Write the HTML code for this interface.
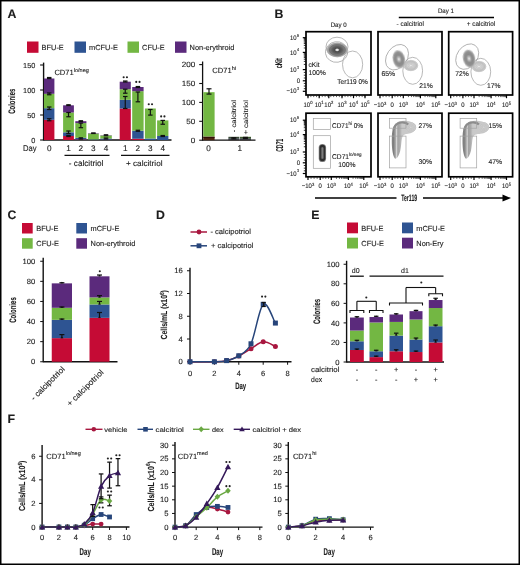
<!DOCTYPE html>
<html><head><meta charset="utf-8"><style>
html,body{margin:0;padding:0;background:#fff;}
.fig{position:relative;width:520px;height:565px;overflow:hidden;background:#fff;}
.fig svg{position:absolute;left:0;top:0;will-change:transform;}
text{font-family:"Liberation Sans",sans-serif;fill:#1c1c1c;stroke:#1c1c1c;stroke-width:0.12px;}
</style></head><body><div class="fig">
<svg width="520" height="565" viewBox="0 0 520 565" font-family='"Liberation Sans", sans-serif' text-rendering="geometricPrecision">
<defs><filter id="bl" x="-30%" y="-30%" width="160%" height="160%"><feGaussianBlur stdDeviation="0.55"/></filter><filter id="bl2" x="-30%" y="-30%" width="160%" height="160%"><feGaussianBlur stdDeviation="0.9"/></filter><radialGradient id="gk0" cx="0.5" cy="0.5" r="0.5"><stop offset="0" stop-color="#fff"/><stop offset="0.1" stop-color="#e0e0e0"/><stop offset="0.24" stop-color="#4c4c4c"/><stop offset="0.45" stop-color="#5c5c5c"/><stop offset="0.7" stop-color="#7c7c7c"/><stop offset="0.9" stop-color="#a8a8a8"/><stop offset="1" stop-color="#d4d4d4"/></radialGradient><radialGradient id="gk1" cx="0.5" cy="0.5" r="0.5"><stop offset="0" stop-color="#eee"/><stop offset="0.2" stop-color="#bbb"/><stop offset="0.45" stop-color="#8a8a8a"/><stop offset="0.75" stop-color="#8f8f8f"/><stop offset="1" stop-color="#c4c4c4"/></radialGradient><radialGradient id="gk2" cx="0.5" cy="0.5" r="0.5"><stop offset="0" stop-color="#e8e8e8"/><stop offset="0.5" stop-color="#d2d2d2"/><stop offset="0.8" stop-color="#c4c4c4"/><stop offset="1" stop-color="#e0e0e0"/></radialGradient><radialGradient id="gk3" cx="0.5" cy="0.5" r="0.5"><stop offset="0" stop-color="#888"/><stop offset="0.35" stop-color="#3a3a3a"/><stop offset="0.7" stop-color="#444"/><stop offset="1" stop-color="#999"/></radialGradient><linearGradient id="gb" x1="0" y1="0" x2="1" y2="0"><stop offset="0" stop-color="#8a8a8a"/><stop offset="0.25" stop-color="#999"/><stop offset="0.45" stop-color="#d8d8d8"/><stop offset="0.6" stop-color="#aaa"/><stop offset="1" stop-color="#c8c8c8"/></linearGradient><linearGradient id="hg389" gradientUnits="userSpaceOnUse" x1="391.5" y1="0" x2="402" y2="0"><stop offset="0" stop-color="#8a8a8a"/><stop offset="0.18" stop-color="#7c7c7c"/><stop offset="0.38" stop-color="#a8a8a8"/><stop offset="0.48" stop-color="#d6d6d6"/><stop offset="0.6" stop-color="#a2a2a2"/><stop offset="0.8" stop-color="#acacac"/><stop offset="1" stop-color="#c9c9c9"/></linearGradient><linearGradient id="hg460" gradientUnits="userSpaceOnUse" x1="462.2" y1="0" x2="472.7" y2="0"><stop offset="0" stop-color="#8a8a8a"/><stop offset="0.18" stop-color="#7c7c7c"/><stop offset="0.38" stop-color="#a8a8a8"/><stop offset="0.48" stop-color="#d6d6d6"/><stop offset="0.6" stop-color="#a2a2a2"/><stop offset="0.8" stop-color="#acacac"/><stop offset="1" stop-color="#c9c9c9"/></linearGradient></defs>
<text x="7.6" y="17.6" font-size="12.3" font-weight="bold" fill="#000">A</text>
<rect x="27" y="41.5" width="11.5" height="11.3" fill="#c50b35"/>
<text x="41.6" y="50.4" font-size="7.4">BFU-E</text>
<rect x="74.5" y="41.5" width="11.5" height="11.3" fill="#2e5492"/>
<text x="89.1" y="50.4" font-size="7.4">mCFU-E</text>
<rect x="127.5" y="41.5" width="11.5" height="11.3" fill="#73b743"/>
<text x="142.1" y="50.4" font-size="7.4">CFU-E</text>
<rect x="175" y="41.5" width="11.5" height="11.3" fill="#5b2a7c"/>
<text x="189.6" y="50.4" font-size="7.4">Non-erythroid</text>
<line x1="43.6" y1="62.6" x2="43.6" y2="140.6" stroke="#111" stroke-width="1.4"/>
<line x1="43.6" y1="140" x2="171.5" y2="140" stroke="#111" stroke-width="1.3"/>
<line x1="40.1" y1="140" x2="43.6" y2="140" stroke="#111" stroke-width="1.1"/>
<text x="35.4" y="142.6" font-size="7.3" text-anchor="end" textLength="4.1" lengthAdjust="spacingAndGlyphs">0</text>
<line x1="40.1" y1="115" x2="43.6" y2="115" stroke="#111" stroke-width="1.1"/>
<text x="35.4" y="117.6" font-size="7.3" text-anchor="end" textLength="8.2" lengthAdjust="spacingAndGlyphs">50</text>
<line x1="40.1" y1="90" x2="43.6" y2="90" stroke="#111" stroke-width="1.1"/>
<text x="35.4" y="92.6" font-size="7.3" text-anchor="end" textLength="12.3" lengthAdjust="spacingAndGlyphs">100</text>
<line x1="40.1" y1="65" x2="43.6" y2="65" stroke="#111" stroke-width="1.1"/>
<text x="35.4" y="67.6" font-size="7.3" text-anchor="end" textLength="12.3" lengthAdjust="spacingAndGlyphs">150</text>
<text x="15.4" y="101.2" font-size="9.4" text-anchor="middle" font-weight="bold" textLength="25.3" lengthAdjust="spacingAndGlyphs" transform="rotate(-90 15.4 101.2)" stroke-width="0.1">Colonies</text>
<text x="54.4" y="75.4" font-size="7.6">CD71<tspan font-size="5.5" dy="-3.4">lo/neg</tspan></text>
<rect x="44" y="119.8" width="10.4" height="20.2" fill="#c50b35"/>
<rect x="44" y="108.2" width="10.4" height="11.6" fill="#2e5492"/>
<rect x="44" y="93.8" width="10.4" height="14.4" fill="#73b743"/>
<rect x="44" y="78.5" width="10.4" height="15.3" fill="#5b2a7c"/>
<rect x="63.1" y="136" width="10.8" height="4" fill="#c50b35"/>
<rect x="63.1" y="132.3" width="10.8" height="3.7" fill="#2e5492"/>
<rect x="63.1" y="112.5" width="10.8" height="19.8" fill="#73b743"/>
<rect x="63.1" y="105.3" width="10.8" height="7.2" fill="#5b2a7c"/>
<rect x="75.3" y="139.4" width="11.1" height="0.6" fill="#c50b35"/>
<rect x="75.3" y="137.8" width="11.1" height="1.6" fill="#2e5492"/>
<rect x="75.3" y="123.1" width="11.1" height="14.7" fill="#73b743"/>
<rect x="75.3" y="121.2" width="11.1" height="1.9" fill="#5b2a7c"/>
<rect x="88" y="139.4" width="10.8" height="0.6" fill="#2e5492"/>
<rect x="88" y="133.6" width="10.8" height="5.8" fill="#73b743"/>
<rect x="88" y="133.2" width="10.8" height="0.4" fill="#5b2a7c"/>
<rect x="100.3" y="139.7" width="11.5" height="0.3" fill="#c50b35"/>
<rect x="100.3" y="138.5" width="11.5" height="1.2" fill="#2e5492"/>
<rect x="100.3" y="135.5" width="11.5" height="3" fill="#73b743"/>
<rect x="100.3" y="135.2" width="11.5" height="0.3" fill="#5b2a7c"/>
<rect x="119.7" y="108.5" width="11.1" height="31.5" fill="#c50b35"/>
<rect x="119.7" y="99.8" width="11.1" height="8.7" fill="#2e5492"/>
<rect x="119.7" y="89.2" width="11.1" height="10.6" fill="#73b743"/>
<rect x="119.7" y="81.7" width="11.1" height="7.5" fill="#5b2a7c"/>
<rect x="132.2" y="138.75" width="11.4" height="1.25" fill="#c50b35"/>
<rect x="132.2" y="130.7" width="11.4" height="8.05" fill="#2e5492"/>
<rect x="132.2" y="91.2" width="11.4" height="39.5" fill="#73b743"/>
<rect x="132.2" y="87" width="11.4" height="4.2" fill="#5b2a7c"/>
<rect x="144.9" y="138.5" width="10.9" height="1.5" fill="#2e5492"/>
<rect x="144.9" y="108.5" width="10.9" height="30" fill="#73b743"/>
<rect x="157.1" y="136" width="11.3" height="4" fill="#2e5492"/>
<rect x="157.1" y="120.4" width="11.3" height="15.6" fill="#73b743"/>
<line x1="49.2" y1="78.5" x2="49.2" y2="77.5" stroke="#111" stroke-width="1.2"/>
<line x1="46.95" y1="78.5" x2="51.45" y2="78.5" stroke="#111" stroke-width="1.2"/>
<line x1="46.95" y1="77.5" x2="51.45" y2="77.5" stroke="#111" stroke-width="1.2"/>
<line x1="49.2" y1="94.75" x2="49.2" y2="93" stroke="#111" stroke-width="1.2"/>
<line x1="46.95" y1="94.75" x2="51.45" y2="94.75" stroke="#111" stroke-width="1.2"/>
<line x1="46.95" y1="93" x2="51.45" y2="93" stroke="#111" stroke-width="1.2"/>
<line x1="49.2" y1="109.5" x2="49.2" y2="107" stroke="#111" stroke-width="1.2"/>
<line x1="46.95" y1="109.5" x2="51.45" y2="109.5" stroke="#111" stroke-width="1.2"/>
<line x1="46.95" y1="107" x2="51.45" y2="107" stroke="#111" stroke-width="1.2"/>
<line x1="49.2" y1="120.75" x2="49.2" y2="118.75" stroke="#111" stroke-width="1.2"/>
<line x1="46.95" y1="120.75" x2="51.45" y2="120.75" stroke="#111" stroke-width="1.2"/>
<line x1="46.95" y1="118.75" x2="51.45" y2="118.75" stroke="#111" stroke-width="1.2"/>
<line x1="68.5" y1="105.5" x2="68.5" y2="104.75" stroke="#111" stroke-width="1.2"/>
<line x1="66.25" y1="105.5" x2="70.75" y2="105.5" stroke="#111" stroke-width="1.2"/>
<line x1="66.25" y1="104.75" x2="70.75" y2="104.75" stroke="#111" stroke-width="1.2"/>
<line x1="68.5" y1="116.75" x2="68.5" y2="112.5" stroke="#111" stroke-width="1.2"/>
<line x1="66.25" y1="116.75" x2="70.75" y2="116.75" stroke="#111" stroke-width="1.2"/>
<line x1="66.25" y1="112.5" x2="70.75" y2="112.5" stroke="#111" stroke-width="1.2"/>
<line x1="68.5" y1="133.5" x2="68.5" y2="131" stroke="#111" stroke-width="1.2"/>
<line x1="66.25" y1="133.5" x2="70.75" y2="133.5" stroke="#111" stroke-width="1.2"/>
<line x1="66.25" y1="131" x2="70.75" y2="131" stroke="#111" stroke-width="1.2"/>
<line x1="68.5" y1="136.5" x2="68.5" y2="135.5" stroke="#111" stroke-width="1.2"/>
<line x1="66.25" y1="136.5" x2="70.75" y2="136.5" stroke="#111" stroke-width="1.2"/>
<line x1="66.25" y1="135.5" x2="70.75" y2="135.5" stroke="#111" stroke-width="1.2"/>
<line x1="80.85" y1="121.5" x2="80.85" y2="120.75" stroke="#111" stroke-width="1.2"/>
<line x1="78.6" y1="121.5" x2="83.1" y2="121.5" stroke="#111" stroke-width="1.2"/>
<line x1="78.6" y1="120.75" x2="83.1" y2="120.75" stroke="#111" stroke-width="1.2"/>
<line x1="80.85" y1="127.7" x2="80.85" y2="123.1" stroke="#111" stroke-width="1.2"/>
<line x1="78.6" y1="127.7" x2="83.1" y2="127.7" stroke="#111" stroke-width="1.2"/>
<line x1="78.6" y1="123.1" x2="83.1" y2="123.1" stroke="#111" stroke-width="1.2"/>
<line x1="80.85" y1="139" x2="80.85" y2="137.8" stroke="#111" stroke-width="1.2"/>
<line x1="78.6" y1="139" x2="83.1" y2="139" stroke="#111" stroke-width="1.2"/>
<line x1="78.6" y1="137.8" x2="83.1" y2="137.8" stroke="#111" stroke-width="1.2"/>
<line x1="93.4" y1="133.5" x2="93.4" y2="132.9" stroke="#111" stroke-width="1.2"/>
<line x1="91.15" y1="133.5" x2="95.65" y2="133.5" stroke="#111" stroke-width="1.2"/>
<line x1="91.15" y1="132.9" x2="95.65" y2="132.9" stroke="#111" stroke-width="1.2"/>
<line x1="106" y1="135.75" x2="106" y2="134.75" stroke="#111" stroke-width="1.2"/>
<line x1="103.75" y1="135.75" x2="108.25" y2="135.75" stroke="#111" stroke-width="1.2"/>
<line x1="103.75" y1="134.75" x2="108.25" y2="134.75" stroke="#111" stroke-width="1.2"/>
<line x1="106" y1="139" x2="106" y2="138" stroke="#111" stroke-width="1.2"/>
<line x1="103.75" y1="139" x2="108.25" y2="139" stroke="#111" stroke-width="1.2"/>
<line x1="103.75" y1="138" x2="108.25" y2="138" stroke="#111" stroke-width="1.2"/>
<line x1="125.25" y1="82" x2="125.25" y2="81" stroke="#111" stroke-width="1.2"/>
<line x1="123" y1="82" x2="127.5" y2="82" stroke="#111" stroke-width="1.2"/>
<line x1="123" y1="81" x2="127.5" y2="81" stroke="#111" stroke-width="1.2"/>
<line x1="125.25" y1="93.2" x2="125.25" y2="89.2" stroke="#111" stroke-width="1.2"/>
<line x1="123" y1="93.2" x2="127.5" y2="93.2" stroke="#111" stroke-width="1.2"/>
<line x1="123" y1="89.2" x2="127.5" y2="89.2" stroke="#111" stroke-width="1.2"/>
<line x1="125.25" y1="108.5" x2="125.25" y2="96.5" stroke="#111" stroke-width="1.2"/>
<line x1="123" y1="108.5" x2="127.5" y2="108.5" stroke="#111" stroke-width="1.2"/>
<line x1="123" y1="96.5" x2="127.5" y2="96.5" stroke="#111" stroke-width="1.2"/>
<line x1="137.9" y1="87.5" x2="137.9" y2="86.5" stroke="#111" stroke-width="1.2"/>
<line x1="135.65" y1="87.5" x2="140.15" y2="87.5" stroke="#111" stroke-width="1.2"/>
<line x1="135.65" y1="86.5" x2="140.15" y2="86.5" stroke="#111" stroke-width="1.2"/>
<line x1="137.9" y1="101.8" x2="137.9" y2="92" stroke="#111" stroke-width="1.2"/>
<line x1="135.65" y1="101.8" x2="140.15" y2="101.8" stroke="#111" stroke-width="1.2"/>
<line x1="135.65" y1="92" x2="140.15" y2="92" stroke="#111" stroke-width="1.2"/>
<line x1="137.9" y1="131.25" x2="137.9" y2="130.25" stroke="#111" stroke-width="1.2"/>
<line x1="135.65" y1="131.25" x2="140.15" y2="131.25" stroke="#111" stroke-width="1.2"/>
<line x1="135.65" y1="130.25" x2="140.15" y2="130.25" stroke="#111" stroke-width="1.2"/>
<line x1="150.35" y1="115.1" x2="150.35" y2="109.5" stroke="#111" stroke-width="1.2"/>
<line x1="148.1" y1="115.1" x2="152.6" y2="115.1" stroke="#111" stroke-width="1.2"/>
<line x1="148.1" y1="109.5" x2="152.6" y2="109.5" stroke="#111" stroke-width="1.2"/>
<line x1="162.75" y1="124.25" x2="162.75" y2="120.4" stroke="#111" stroke-width="1.2"/>
<line x1="160.5" y1="124.25" x2="165" y2="124.25" stroke="#111" stroke-width="1.2"/>
<line x1="160.5" y1="120.4" x2="165" y2="120.4" stroke="#111" stroke-width="1.2"/>
<line x1="162.75" y1="136.5" x2="162.75" y2="135.5" stroke="#111" stroke-width="1.2"/>
<line x1="160.5" y1="136.5" x2="165" y2="136.5" stroke="#111" stroke-width="1.2"/>
<line x1="160.5" y1="135.5" x2="165" y2="135.5" stroke="#111" stroke-width="1.2"/>
<circle cx="123.65" cy="77.3" r="1.05" fill="#222"/>
<circle cx="126.95" cy="77.3" r="1.05" fill="#222"/>
<circle cx="136.25" cy="81.9" r="1.05" fill="#222"/>
<circle cx="139.55" cy="81.9" r="1.05" fill="#222"/>
<circle cx="148.75" cy="104.2" r="1.05" fill="#222"/>
<circle cx="152.05" cy="104.2" r="1.05" fill="#222"/>
<circle cx="161.15" cy="116.4" r="1.05" fill="#222"/>
<circle cx="164.45" cy="116.4" r="1.05" fill="#222"/>
<text x="22.9" y="150.9" font-size="8.2" textLength="13.6" lengthAdjust="spacingAndGlyphs">Day</text>
<text x="49.2" y="150.9" font-size="8.2" text-anchor="middle">0</text>
<text x="68.5" y="150.9" font-size="8.2" text-anchor="middle">1</text>
<text x="80.85" y="150.9" font-size="8.2" text-anchor="middle">2</text>
<text x="93.4" y="150.9" font-size="8.2" text-anchor="middle">3</text>
<text x="106" y="150.9" font-size="8.2" text-anchor="middle">4</text>
<text x="125.25" y="150.9" font-size="8.2" text-anchor="middle">1</text>
<text x="137.9" y="150.9" font-size="8.2" text-anchor="middle">2</text>
<text x="150.35" y="150.9" font-size="8.2" text-anchor="middle">3</text>
<text x="162.75" y="150.9" font-size="8.2" text-anchor="middle">4</text>
<line x1="64.5" y1="155.3" x2="109.5" y2="155.3" stroke="#111" stroke-width="1.3"/>
<line x1="121" y1="155.3" x2="169.5" y2="155.3" stroke="#111" stroke-width="1.3"/>
<text x="68.8" y="166" font-size="8.2" textLength="34.6" lengthAdjust="spacingAndGlyphs">- calcitriol</text>
<text x="126" y="166" font-size="8" textLength="36.5" lengthAdjust="spacingAndGlyphs">+ calcitriol</text>
<line x1="202.6" y1="61.5" x2="202.6" y2="140.8" stroke="#111" stroke-width="1.3"/>
<line x1="202.6" y1="140.2" x2="255.5" y2="140.2" stroke="#111" stroke-width="1.3"/>
<line x1="199.2" y1="140.2" x2="202.6" y2="140.2" stroke="#111" stroke-width="1.1"/>
<text x="195.3" y="142.7" font-size="7.6" text-anchor="end" textLength="4.5" lengthAdjust="spacingAndGlyphs">0</text>
<line x1="199.2" y1="121.3" x2="202.6" y2="121.3" stroke="#111" stroke-width="1.1"/>
<text x="195.3" y="123.8" font-size="7.6" text-anchor="end" textLength="9" lengthAdjust="spacingAndGlyphs">50</text>
<line x1="199.2" y1="102.4" x2="202.6" y2="102.4" stroke="#111" stroke-width="1.1"/>
<text x="195.3" y="104.9" font-size="7.6" text-anchor="end" textLength="13.5" lengthAdjust="spacingAndGlyphs">100</text>
<line x1="199.2" y1="83.5" x2="202.6" y2="83.5" stroke="#111" stroke-width="1.1"/>
<text x="195.3" y="86" font-size="7.6" text-anchor="end" textLength="13.5" lengthAdjust="spacingAndGlyphs">150</text>
<line x1="199.2" y1="64.6" x2="202.6" y2="64.6" stroke="#111" stroke-width="1.1"/>
<text x="195.3" y="67.1" font-size="7.6" text-anchor="end" textLength="13.5" lengthAdjust="spacingAndGlyphs">200</text>
<text x="212.3" y="73" font-size="7.6">CD71<tspan font-size="5.5" dy="-3.4">hi</tspan></text>
<rect x="203.3" y="136.42" width="11.3" height="3.78" fill="#4e2412"/>
<rect x="203.3" y="92.19" width="11.3" height="44.23" fill="#73b743"/>
<line x1="203.3" y1="137.55" x2="214.6" y2="137.55" stroke="#2a0a05" stroke-width="0.8"/>
<line x1="209" y1="94.08" x2="209" y2="88.79" stroke="#111" stroke-width="1.2"/>
<line x1="206.5" y1="94.08" x2="211.5" y2="94.08" stroke="#111" stroke-width="1.2"/>
<line x1="206.5" y1="88.79" x2="211.5" y2="88.79" stroke="#111" stroke-width="1.2"/>
<rect x="228.4" y="139.44" width="10.8" height="0.76" fill="#2a1a18"/>
<rect x="228.4" y="138.31" width="10.8" height="1.13" fill="#1e2a3a"/>
<rect x="228.4" y="136.8" width="10.8" height="1.51" fill="#3a4a36"/>
<rect x="239.8" y="139.44" width="11.2" height="0.76" fill="#2a1a18"/>
<rect x="239.8" y="138.31" width="11.2" height="1.13" fill="#1e2a3a"/>
<rect x="239.8" y="136.8" width="11.2" height="1.51" fill="#3d5a2c"/>
<line x1="233.8" y1="138.88" x2="233.8" y2="137.74" stroke="#111" stroke-width="1.2"/>
<line x1="231.3" y1="138.88" x2="236.3" y2="138.88" stroke="#111" stroke-width="1.2"/>
<line x1="231.3" y1="137.74" x2="236.3" y2="137.74" stroke="#111" stroke-width="1.2"/>
<line x1="245.4" y1="138.5" x2="245.4" y2="137.36" stroke="#111" stroke-width="1.2"/>
<line x1="242.9" y1="138.5" x2="247.9" y2="138.5" stroke="#111" stroke-width="1.2"/>
<line x1="242.9" y1="137.36" x2="247.9" y2="137.36" stroke="#111" stroke-width="1.2"/>
<text x="208.5" y="150.9" font-size="8.2" text-anchor="middle">0</text>
<text x="239.8" y="150.9" font-size="8.2" text-anchor="middle">1</text>
<text x="236.1" y="132.2" font-size="6.4" textLength="32.2" lengthAdjust="spacingAndGlyphs" transform="rotate(-90 236.1 132.2)">- calcitriol</text>
<text x="247.9" y="134.6" font-size="6.4" textLength="34.6" lengthAdjust="spacingAndGlyphs" transform="rotate(-90 247.9 134.6)">+ calcitriol</text>
<text x="274.4" y="18" font-size="12.3" font-weight="bold" fill="#000">B</text>
<text x="338.7" y="27.1" font-size="6.5" text-anchor="middle" textLength="16" lengthAdjust="spacingAndGlyphs">Day 0</text>
<text x="445.9" y="13.2" font-size="6.5" text-anchor="middle" textLength="16" lengthAdjust="spacingAndGlyphs">Day 1</text>
<line x1="398.8" y1="17.6" x2="494" y2="17.6" stroke="#000" stroke-width="1.5"/>
<text x="410.2" y="26.3" font-size="6.7" text-anchor="middle" textLength="27.5" lengthAdjust="spacingAndGlyphs">- calcitriol</text>
<text x="481" y="26.3" font-size="6.7" text-anchor="middle" textLength="28.5" lengthAdjust="spacingAndGlyphs">+ calcitriol</text>
<rect x="306" y="31.7" width="65" height="63.3" fill="none" stroke="#000" stroke-width="1.7"/>
<line x1="303.8" y1="64.42" x2="306" y2="64.42" stroke="#111" stroke-width="0.85"/>
<line x1="303.8" y1="61.39" x2="306" y2="61.39" stroke="#111" stroke-width="0.85"/>
<line x1="303.8" y1="59.24" x2="306" y2="59.24" stroke="#111" stroke-width="0.85"/>
<line x1="303.8" y1="57.58" x2="306" y2="57.58" stroke="#111" stroke-width="0.85"/>
<line x1="303.8" y1="56.22" x2="306" y2="56.22" stroke="#111" stroke-width="0.85"/>
<line x1="303.8" y1="55.06" x2="306" y2="55.06" stroke="#111" stroke-width="0.85"/>
<line x1="303.8" y1="54.07" x2="306" y2="54.07" stroke="#111" stroke-width="0.85"/>
<line x1="303.8" y1="53.19" x2="306" y2="53.19" stroke="#111" stroke-width="0.85"/>
<line x1="303.8" y1="47.97" x2="306" y2="47.97" stroke="#111" stroke-width="0.85"/>
<line x1="303.8" y1="45.39" x2="306" y2="45.39" stroke="#111" stroke-width="0.85"/>
<line x1="303.8" y1="43.55" x2="306" y2="43.55" stroke="#111" stroke-width="0.85"/>
<line x1="303.8" y1="42.13" x2="306" y2="42.13" stroke="#111" stroke-width="0.85"/>
<line x1="303.8" y1="40.96" x2="306" y2="40.96" stroke="#111" stroke-width="0.85"/>
<line x1="303.8" y1="39.98" x2="306" y2="39.98" stroke="#111" stroke-width="0.85"/>
<line x1="303.8" y1="39.12" x2="306" y2="39.12" stroke="#111" stroke-width="0.85"/>
<line x1="303.8" y1="38.37" x2="306" y2="38.37" stroke="#111" stroke-width="0.85"/>
<line x1="303.8" y1="72.4" x2="306" y2="72.4" stroke="#111" stroke-width="0.85"/>
<line x1="303.8" y1="75.2" x2="306" y2="75.2" stroke="#111" stroke-width="0.85"/>
<line x1="303.8" y1="78" x2="306" y2="78" stroke="#111" stroke-width="0.85"/>
<line x1="303.8" y1="83.42" x2="306" y2="83.42" stroke="#111" stroke-width="0.85"/>
<line x1="303.8" y1="86.05" x2="306" y2="86.05" stroke="#111" stroke-width="0.85"/>
<line x1="303.8" y1="88.67" x2="306" y2="88.67" stroke="#111" stroke-width="0.85"/>
<line x1="302.8" y1="37.7" x2="306" y2="37.7" stroke="#000" stroke-width="1.2"/>
<line x1="302.8" y1="52.4" x2="306" y2="52.4" stroke="#000" stroke-width="1.2"/>
<line x1="302.8" y1="69.6" x2="306" y2="69.6" stroke="#000" stroke-width="1.2"/>
<line x1="302.8" y1="80.8" x2="306" y2="80.8" stroke="#000" stroke-width="1.2"/>
<line x1="302.8" y1="91.3" x2="306" y2="91.3" stroke="#000" stroke-width="1.2"/>
<text x="296.6" y="39.8" font-size="6.6" text-anchor="end" transform="translate(296.6 39.8) scale(0.9 1) translate(-296.6 -39.8)">10</text>
<text x="296.9" y="36.6" font-size="4.2" transform="translate(296.9 36.6) scale(0.9 1) translate(-296.9 -36.6)">5</text>
<text x="296.6" y="54.5" font-size="6.6" text-anchor="end" transform="translate(296.6 54.5) scale(0.9 1) translate(-296.6 -54.5)">10</text>
<text x="296.9" y="51.3" font-size="4.2" transform="translate(296.9 51.3) scale(0.9 1) translate(-296.9 -51.3)">4</text>
<text x="296.6" y="71.7" font-size="6.6" text-anchor="end" transform="translate(296.6 71.7) scale(0.9 1) translate(-296.6 -71.7)">10</text>
<text x="296.9" y="68.5" font-size="4.2" transform="translate(296.9 68.5) scale(0.9 1) translate(-296.9 -68.5)">3</text>
<text x="300" y="82.9" font-size="6.6" text-anchor="end" transform="translate(300 82.9) scale(0.9 1) translate(-300 -82.9)">0</text>
<text x="296.6" y="93.4" font-size="6.6" text-anchor="end" transform="translate(296.6 93.4) scale(0.9 1) translate(-296.6 -93.4)">−10</text>
<text x="296.9" y="90.2" font-size="4.2" transform="translate(296.9 90.2) scale(0.9 1) translate(-296.9 -90.2)">3</text>
<line x1="308" y1="95" x2="308" y2="97.1" stroke="#222" stroke-width="0.7"/>
<line x1="310.85" y1="95" x2="310.85" y2="97.1" stroke="#222" stroke-width="0.7"/>
<line x1="313.7" y1="95" x2="313.7" y2="97.1" stroke="#222" stroke-width="0.7"/>
<line x1="316.55" y1="95" x2="316.55" y2="97.1" stroke="#222" stroke-width="0.7"/>
<line x1="319.4" y1="95" x2="319.4" y2="97.1" stroke="#222" stroke-width="0.7"/>
<line x1="322.25" y1="95" x2="322.25" y2="97.1" stroke="#222" stroke-width="0.7"/>
<line x1="325.1" y1="95" x2="325.1" y2="97.1" stroke="#222" stroke-width="0.7"/>
<line x1="327.95" y1="95" x2="327.95" y2="97.1" stroke="#222" stroke-width="0.7"/>
<line x1="330.8" y1="95" x2="330.8" y2="97.1" stroke="#222" stroke-width="0.7"/>
<line x1="333.65" y1="95" x2="333.65" y2="97.1" stroke="#222" stroke-width="0.7"/>
<line x1="336.5" y1="95" x2="336.5" y2="97.1" stroke="#222" stroke-width="0.7"/>
<line x1="339.35" y1="95" x2="339.35" y2="97.1" stroke="#222" stroke-width="0.7"/>
<line x1="342.2" y1="95" x2="342.2" y2="97.1" stroke="#222" stroke-width="0.7"/>
<line x1="345.05" y1="95" x2="345.05" y2="97.1" stroke="#222" stroke-width="0.7"/>
<line x1="347.9" y1="95" x2="347.9" y2="97.1" stroke="#222" stroke-width="0.7"/>
<line x1="350.75" y1="95" x2="350.75" y2="97.1" stroke="#222" stroke-width="0.7"/>
<line x1="353.6" y1="95" x2="353.6" y2="97.1" stroke="#222" stroke-width="0.7"/>
<line x1="356.45" y1="95" x2="356.45" y2="97.1" stroke="#222" stroke-width="0.7"/>
<line x1="359.3" y1="95" x2="359.3" y2="97.1" stroke="#222" stroke-width="0.7"/>
<line x1="362.15" y1="95" x2="362.15" y2="97.1" stroke="#222" stroke-width="0.7"/>
<line x1="365" y1="95" x2="365" y2="97.1" stroke="#222" stroke-width="0.7"/>
<line x1="308" y1="95" x2="308" y2="98.2" stroke="#000" stroke-width="1.2"/>
<line x1="319.2" y1="95" x2="319.2" y2="98.2" stroke="#000" stroke-width="1.2"/>
<line x1="328.8" y1="95" x2="328.8" y2="98.2" stroke="#000" stroke-width="1.2"/>
<line x1="342" y1="95" x2="342" y2="98.2" stroke="#000" stroke-width="1.2"/>
<line x1="353.5" y1="95" x2="353.5" y2="98.2" stroke="#000" stroke-width="1.2"/>
<line x1="365" y1="95" x2="365" y2="98.2" stroke="#000" stroke-width="1.2"/>
<rect x="378" y="31.7" width="64" height="63.3" fill="none" stroke="#000" stroke-width="1.7"/>
<line x1="408.45" y1="95" x2="408.45" y2="97.1" stroke="#222" stroke-width="0.7"/>
<line x1="411.46" y1="95" x2="411.46" y2="97.1" stroke="#222" stroke-width="0.7"/>
<line x1="413.6" y1="95" x2="413.6" y2="97.1" stroke="#222" stroke-width="0.7"/>
<line x1="415.25" y1="95" x2="415.25" y2="97.1" stroke="#222" stroke-width="0.7"/>
<line x1="416.61" y1="95" x2="416.61" y2="97.1" stroke="#222" stroke-width="0.7"/>
<line x1="417.75" y1="95" x2="417.75" y2="97.1" stroke="#222" stroke-width="0.7"/>
<line x1="418.74" y1="95" x2="418.74" y2="97.1" stroke="#222" stroke-width="0.7"/>
<line x1="419.62" y1="95" x2="419.62" y2="97.1" stroke="#222" stroke-width="0.7"/>
<line x1="425.04" y1="95" x2="425.04" y2="97.1" stroke="#222" stroke-width="0.7"/>
<line x1="427.75" y1="95" x2="427.75" y2="97.1" stroke="#222" stroke-width="0.7"/>
<line x1="429.67" y1="95" x2="429.67" y2="97.1" stroke="#222" stroke-width="0.7"/>
<line x1="431.16" y1="95" x2="431.16" y2="97.1" stroke="#222" stroke-width="0.7"/>
<line x1="432.38" y1="95" x2="432.38" y2="97.1" stroke="#222" stroke-width="0.7"/>
<line x1="433.41" y1="95" x2="433.41" y2="97.1" stroke="#222" stroke-width="0.7"/>
<line x1="434.31" y1="95" x2="434.31" y2="97.1" stroke="#222" stroke-width="0.7"/>
<line x1="435.1" y1="95" x2="435.1" y2="97.1" stroke="#222" stroke-width="0.7"/>
<line x1="383.05" y1="95" x2="383.05" y2="97.1" stroke="#222" stroke-width="0.7"/>
<line x1="386.1" y1="95" x2="386.1" y2="97.1" stroke="#222" stroke-width="0.7"/>
<line x1="389.15" y1="95" x2="389.15" y2="97.1" stroke="#222" stroke-width="0.7"/>
<line x1="394.98" y1="95" x2="394.98" y2="97.1" stroke="#222" stroke-width="0.7"/>
<line x1="397.75" y1="95" x2="397.75" y2="97.1" stroke="#222" stroke-width="0.7"/>
<line x1="400.52" y1="95" x2="400.52" y2="97.1" stroke="#222" stroke-width="0.7"/>
<line x1="380" y1="95" x2="380" y2="98.2" stroke="#000" stroke-width="1.2"/>
<line x1="392.2" y1="95" x2="392.2" y2="98.2" stroke="#000" stroke-width="1.2"/>
<line x1="403.3" y1="95" x2="403.3" y2="98.2" stroke="#000" stroke-width="1.2"/>
<line x1="420.4" y1="95" x2="420.4" y2="98.2" stroke="#000" stroke-width="1.2"/>
<line x1="435.8" y1="95" x2="435.8" y2="98.2" stroke="#000" stroke-width="1.2"/>
<rect x="448.7" y="31.7" width="63.9" height="63.3" fill="none" stroke="#000" stroke-width="1.7"/>
<line x1="479.15" y1="95" x2="479.15" y2="97.1" stroke="#222" stroke-width="0.7"/>
<line x1="482.16" y1="95" x2="482.16" y2="97.1" stroke="#222" stroke-width="0.7"/>
<line x1="484.3" y1="95" x2="484.3" y2="97.1" stroke="#222" stroke-width="0.7"/>
<line x1="485.95" y1="95" x2="485.95" y2="97.1" stroke="#222" stroke-width="0.7"/>
<line x1="487.31" y1="95" x2="487.31" y2="97.1" stroke="#222" stroke-width="0.7"/>
<line x1="488.45" y1="95" x2="488.45" y2="97.1" stroke="#222" stroke-width="0.7"/>
<line x1="489.44" y1="95" x2="489.44" y2="97.1" stroke="#222" stroke-width="0.7"/>
<line x1="490.32" y1="95" x2="490.32" y2="97.1" stroke="#222" stroke-width="0.7"/>
<line x1="495.74" y1="95" x2="495.74" y2="97.1" stroke="#222" stroke-width="0.7"/>
<line x1="498.45" y1="95" x2="498.45" y2="97.1" stroke="#222" stroke-width="0.7"/>
<line x1="500.37" y1="95" x2="500.37" y2="97.1" stroke="#222" stroke-width="0.7"/>
<line x1="501.86" y1="95" x2="501.86" y2="97.1" stroke="#222" stroke-width="0.7"/>
<line x1="503.08" y1="95" x2="503.08" y2="97.1" stroke="#222" stroke-width="0.7"/>
<line x1="504.11" y1="95" x2="504.11" y2="97.1" stroke="#222" stroke-width="0.7"/>
<line x1="505.01" y1="95" x2="505.01" y2="97.1" stroke="#222" stroke-width="0.7"/>
<line x1="505.8" y1="95" x2="505.8" y2="97.1" stroke="#222" stroke-width="0.7"/>
<line x1="453.75" y1="95" x2="453.75" y2="97.1" stroke="#222" stroke-width="0.7"/>
<line x1="456.8" y1="95" x2="456.8" y2="97.1" stroke="#222" stroke-width="0.7"/>
<line x1="459.85" y1="95" x2="459.85" y2="97.1" stroke="#222" stroke-width="0.7"/>
<line x1="465.67" y1="95" x2="465.67" y2="97.1" stroke="#222" stroke-width="0.7"/>
<line x1="468.45" y1="95" x2="468.45" y2="97.1" stroke="#222" stroke-width="0.7"/>
<line x1="471.23" y1="95" x2="471.23" y2="97.1" stroke="#222" stroke-width="0.7"/>
<line x1="450.7" y1="95" x2="450.7" y2="98.2" stroke="#000" stroke-width="1.2"/>
<line x1="462.9" y1="95" x2="462.9" y2="98.2" stroke="#000" stroke-width="1.2"/>
<line x1="474" y1="95" x2="474" y2="98.2" stroke="#000" stroke-width="1.2"/>
<line x1="491.1" y1="95" x2="491.1" y2="98.2" stroke="#000" stroke-width="1.2"/>
<line x1="506.5" y1="95" x2="506.5" y2="98.2" stroke="#000" stroke-width="1.2"/>
<rect x="306" y="113.2" width="65" height="63.6" fill="none" stroke="#000" stroke-width="1.7"/>
<line x1="303.8" y1="146.76" x2="306" y2="146.76" stroke="#111" stroke-width="0.85"/>
<line x1="303.8" y1="143.7" x2="306" y2="143.7" stroke="#111" stroke-width="0.85"/>
<line x1="303.8" y1="141.52" x2="306" y2="141.52" stroke="#111" stroke-width="0.85"/>
<line x1="303.8" y1="139.84" x2="306" y2="139.84" stroke="#111" stroke-width="0.85"/>
<line x1="303.8" y1="138.46" x2="306" y2="138.46" stroke="#111" stroke-width="0.85"/>
<line x1="303.8" y1="137.3" x2="306" y2="137.3" stroke="#111" stroke-width="0.85"/>
<line x1="303.8" y1="136.29" x2="306" y2="136.29" stroke="#111" stroke-width="0.85"/>
<line x1="303.8" y1="135.4" x2="306" y2="135.4" stroke="#111" stroke-width="0.85"/>
<line x1="303.8" y1="130.27" x2="306" y2="130.27" stroke="#111" stroke-width="0.85"/>
<line x1="303.8" y1="127.73" x2="306" y2="127.73" stroke="#111" stroke-width="0.85"/>
<line x1="303.8" y1="125.93" x2="306" y2="125.93" stroke="#111" stroke-width="0.85"/>
<line x1="303.8" y1="124.53" x2="306" y2="124.53" stroke="#111" stroke-width="0.85"/>
<line x1="303.8" y1="123.39" x2="306" y2="123.39" stroke="#111" stroke-width="0.85"/>
<line x1="303.8" y1="122.43" x2="306" y2="122.43" stroke="#111" stroke-width="0.85"/>
<line x1="303.8" y1="121.6" x2="306" y2="121.6" stroke="#111" stroke-width="0.85"/>
<line x1="303.8" y1="120.86" x2="306" y2="120.86" stroke="#111" stroke-width="0.85"/>
<line x1="303.8" y1="154.7" x2="306" y2="154.7" stroke="#111" stroke-width="0.85"/>
<line x1="303.8" y1="157.4" x2="306" y2="157.4" stroke="#111" stroke-width="0.85"/>
<line x1="303.8" y1="160.1" x2="306" y2="160.1" stroke="#111" stroke-width="0.85"/>
<line x1="303.8" y1="165.48" x2="306" y2="165.48" stroke="#111" stroke-width="0.85"/>
<line x1="303.8" y1="168.15" x2="306" y2="168.15" stroke="#111" stroke-width="0.85"/>
<line x1="303.8" y1="170.82" x2="306" y2="170.82" stroke="#111" stroke-width="0.85"/>
<line x1="302.8" y1="120.2" x2="306" y2="120.2" stroke="#000" stroke-width="1.2"/>
<line x1="302.8" y1="134.6" x2="306" y2="134.6" stroke="#000" stroke-width="1.2"/>
<line x1="302.8" y1="152" x2="306" y2="152" stroke="#000" stroke-width="1.2"/>
<line x1="302.8" y1="162.8" x2="306" y2="162.8" stroke="#000" stroke-width="1.2"/>
<line x1="302.8" y1="173.5" x2="306" y2="173.5" stroke="#000" stroke-width="1.2"/>
<text x="296.6" y="122.3" font-size="6.6" text-anchor="end" transform="translate(296.6 122.3) scale(0.9 1) translate(-296.6 -122.3)">10</text>
<text x="296.9" y="119.1" font-size="4.2" transform="translate(296.9 119.1) scale(0.9 1) translate(-296.9 -119.1)">5</text>
<text x="296.6" y="136.7" font-size="6.6" text-anchor="end" transform="translate(296.6 136.7) scale(0.9 1) translate(-296.6 -136.7)">10</text>
<text x="296.9" y="133.5" font-size="4.2" transform="translate(296.9 133.5) scale(0.9 1) translate(-296.9 -133.5)">4</text>
<text x="296.6" y="154.1" font-size="6.6" text-anchor="end" transform="translate(296.6 154.1) scale(0.9 1) translate(-296.6 -154.1)">10</text>
<text x="296.9" y="150.9" font-size="4.2" transform="translate(296.9 150.9) scale(0.9 1) translate(-296.9 -150.9)">3</text>
<text x="300" y="164.9" font-size="6.6" text-anchor="end" transform="translate(300 164.9) scale(0.9 1) translate(-300 -164.9)">0</text>
<text x="296.6" y="175.6" font-size="6.6" text-anchor="end" transform="translate(296.6 175.6) scale(0.9 1) translate(-296.6 -175.6)">−10</text>
<text x="296.9" y="172.4" font-size="4.2" transform="translate(296.9 172.4) scale(0.9 1) translate(-296.9 -172.4)">3</text>
<line x1="336.45" y1="176.8" x2="336.45" y2="178.9" stroke="#222" stroke-width="0.7"/>
<line x1="339.46" y1="176.8" x2="339.46" y2="178.9" stroke="#222" stroke-width="0.7"/>
<line x1="341.6" y1="176.8" x2="341.6" y2="178.9" stroke="#222" stroke-width="0.7"/>
<line x1="343.25" y1="176.8" x2="343.25" y2="178.9" stroke="#222" stroke-width="0.7"/>
<line x1="344.61" y1="176.8" x2="344.61" y2="178.9" stroke="#222" stroke-width="0.7"/>
<line x1="345.75" y1="176.8" x2="345.75" y2="178.9" stroke="#222" stroke-width="0.7"/>
<line x1="346.74" y1="176.8" x2="346.74" y2="178.9" stroke="#222" stroke-width="0.7"/>
<line x1="347.62" y1="176.8" x2="347.62" y2="178.9" stroke="#222" stroke-width="0.7"/>
<line x1="353.04" y1="176.8" x2="353.04" y2="178.9" stroke="#222" stroke-width="0.7"/>
<line x1="355.75" y1="176.8" x2="355.75" y2="178.9" stroke="#222" stroke-width="0.7"/>
<line x1="357.67" y1="176.8" x2="357.67" y2="178.9" stroke="#222" stroke-width="0.7"/>
<line x1="359.16" y1="176.8" x2="359.16" y2="178.9" stroke="#222" stroke-width="0.7"/>
<line x1="360.38" y1="176.8" x2="360.38" y2="178.9" stroke="#222" stroke-width="0.7"/>
<line x1="361.41" y1="176.8" x2="361.41" y2="178.9" stroke="#222" stroke-width="0.7"/>
<line x1="362.31" y1="176.8" x2="362.31" y2="178.9" stroke="#222" stroke-width="0.7"/>
<line x1="363.1" y1="176.8" x2="363.1" y2="178.9" stroke="#222" stroke-width="0.7"/>
<line x1="311.05" y1="176.8" x2="311.05" y2="178.9" stroke="#222" stroke-width="0.7"/>
<line x1="314.1" y1="176.8" x2="314.1" y2="178.9" stroke="#222" stroke-width="0.7"/>
<line x1="317.15" y1="176.8" x2="317.15" y2="178.9" stroke="#222" stroke-width="0.7"/>
<line x1="322.98" y1="176.8" x2="322.98" y2="178.9" stroke="#222" stroke-width="0.7"/>
<line x1="325.75" y1="176.8" x2="325.75" y2="178.9" stroke="#222" stroke-width="0.7"/>
<line x1="328.52" y1="176.8" x2="328.52" y2="178.9" stroke="#222" stroke-width="0.7"/>
<line x1="308" y1="176.8" x2="308" y2="180" stroke="#000" stroke-width="1.2"/>
<line x1="320.2" y1="176.8" x2="320.2" y2="180" stroke="#000" stroke-width="1.2"/>
<line x1="331.3" y1="176.8" x2="331.3" y2="180" stroke="#000" stroke-width="1.2"/>
<line x1="348.4" y1="176.8" x2="348.4" y2="180" stroke="#000" stroke-width="1.2"/>
<line x1="363.8" y1="176.8" x2="363.8" y2="180" stroke="#000" stroke-width="1.2"/>
<rect x="378" y="113.2" width="64" height="63.6" fill="none" stroke="#000" stroke-width="1.7"/>
<line x1="408.45" y1="176.8" x2="408.45" y2="178.9" stroke="#222" stroke-width="0.7"/>
<line x1="411.46" y1="176.8" x2="411.46" y2="178.9" stroke="#222" stroke-width="0.7"/>
<line x1="413.6" y1="176.8" x2="413.6" y2="178.9" stroke="#222" stroke-width="0.7"/>
<line x1="415.25" y1="176.8" x2="415.25" y2="178.9" stroke="#222" stroke-width="0.7"/>
<line x1="416.61" y1="176.8" x2="416.61" y2="178.9" stroke="#222" stroke-width="0.7"/>
<line x1="417.75" y1="176.8" x2="417.75" y2="178.9" stroke="#222" stroke-width="0.7"/>
<line x1="418.74" y1="176.8" x2="418.74" y2="178.9" stroke="#222" stroke-width="0.7"/>
<line x1="419.62" y1="176.8" x2="419.62" y2="178.9" stroke="#222" stroke-width="0.7"/>
<line x1="425.04" y1="176.8" x2="425.04" y2="178.9" stroke="#222" stroke-width="0.7"/>
<line x1="427.75" y1="176.8" x2="427.75" y2="178.9" stroke="#222" stroke-width="0.7"/>
<line x1="429.67" y1="176.8" x2="429.67" y2="178.9" stroke="#222" stroke-width="0.7"/>
<line x1="431.16" y1="176.8" x2="431.16" y2="178.9" stroke="#222" stroke-width="0.7"/>
<line x1="432.38" y1="176.8" x2="432.38" y2="178.9" stroke="#222" stroke-width="0.7"/>
<line x1="433.41" y1="176.8" x2="433.41" y2="178.9" stroke="#222" stroke-width="0.7"/>
<line x1="434.31" y1="176.8" x2="434.31" y2="178.9" stroke="#222" stroke-width="0.7"/>
<line x1="435.1" y1="176.8" x2="435.1" y2="178.9" stroke="#222" stroke-width="0.7"/>
<line x1="383.05" y1="176.8" x2="383.05" y2="178.9" stroke="#222" stroke-width="0.7"/>
<line x1="386.1" y1="176.8" x2="386.1" y2="178.9" stroke="#222" stroke-width="0.7"/>
<line x1="389.15" y1="176.8" x2="389.15" y2="178.9" stroke="#222" stroke-width="0.7"/>
<line x1="394.98" y1="176.8" x2="394.98" y2="178.9" stroke="#222" stroke-width="0.7"/>
<line x1="397.75" y1="176.8" x2="397.75" y2="178.9" stroke="#222" stroke-width="0.7"/>
<line x1="400.52" y1="176.8" x2="400.52" y2="178.9" stroke="#222" stroke-width="0.7"/>
<line x1="380" y1="176.8" x2="380" y2="180" stroke="#000" stroke-width="1.2"/>
<line x1="392.2" y1="176.8" x2="392.2" y2="180" stroke="#000" stroke-width="1.2"/>
<line x1="403.3" y1="176.8" x2="403.3" y2="180" stroke="#000" stroke-width="1.2"/>
<line x1="420.4" y1="176.8" x2="420.4" y2="180" stroke="#000" stroke-width="1.2"/>
<line x1="435.8" y1="176.8" x2="435.8" y2="180" stroke="#000" stroke-width="1.2"/>
<rect x="448.7" y="113.2" width="63.9" height="63.6" fill="none" stroke="#000" stroke-width="1.7"/>
<line x1="479.15" y1="176.8" x2="479.15" y2="178.9" stroke="#222" stroke-width="0.7"/>
<line x1="482.16" y1="176.8" x2="482.16" y2="178.9" stroke="#222" stroke-width="0.7"/>
<line x1="484.3" y1="176.8" x2="484.3" y2="178.9" stroke="#222" stroke-width="0.7"/>
<line x1="485.95" y1="176.8" x2="485.95" y2="178.9" stroke="#222" stroke-width="0.7"/>
<line x1="487.31" y1="176.8" x2="487.31" y2="178.9" stroke="#222" stroke-width="0.7"/>
<line x1="488.45" y1="176.8" x2="488.45" y2="178.9" stroke="#222" stroke-width="0.7"/>
<line x1="489.44" y1="176.8" x2="489.44" y2="178.9" stroke="#222" stroke-width="0.7"/>
<line x1="490.32" y1="176.8" x2="490.32" y2="178.9" stroke="#222" stroke-width="0.7"/>
<line x1="495.74" y1="176.8" x2="495.74" y2="178.9" stroke="#222" stroke-width="0.7"/>
<line x1="498.45" y1="176.8" x2="498.45" y2="178.9" stroke="#222" stroke-width="0.7"/>
<line x1="500.37" y1="176.8" x2="500.37" y2="178.9" stroke="#222" stroke-width="0.7"/>
<line x1="501.86" y1="176.8" x2="501.86" y2="178.9" stroke="#222" stroke-width="0.7"/>
<line x1="503.08" y1="176.8" x2="503.08" y2="178.9" stroke="#222" stroke-width="0.7"/>
<line x1="504.11" y1="176.8" x2="504.11" y2="178.9" stroke="#222" stroke-width="0.7"/>
<line x1="505.01" y1="176.8" x2="505.01" y2="178.9" stroke="#222" stroke-width="0.7"/>
<line x1="505.8" y1="176.8" x2="505.8" y2="178.9" stroke="#222" stroke-width="0.7"/>
<line x1="453.75" y1="176.8" x2="453.75" y2="178.9" stroke="#222" stroke-width="0.7"/>
<line x1="456.8" y1="176.8" x2="456.8" y2="178.9" stroke="#222" stroke-width="0.7"/>
<line x1="459.85" y1="176.8" x2="459.85" y2="178.9" stroke="#222" stroke-width="0.7"/>
<line x1="465.67" y1="176.8" x2="465.67" y2="178.9" stroke="#222" stroke-width="0.7"/>
<line x1="468.45" y1="176.8" x2="468.45" y2="178.9" stroke="#222" stroke-width="0.7"/>
<line x1="471.23" y1="176.8" x2="471.23" y2="178.9" stroke="#222" stroke-width="0.7"/>
<line x1="450.7" y1="176.8" x2="450.7" y2="180" stroke="#000" stroke-width="1.2"/>
<line x1="462.9" y1="176.8" x2="462.9" y2="180" stroke="#000" stroke-width="1.2"/>
<line x1="474" y1="176.8" x2="474" y2="180" stroke="#000" stroke-width="1.2"/>
<line x1="491.1" y1="176.8" x2="491.1" y2="180" stroke="#000" stroke-width="1.2"/>
<line x1="506.5" y1="176.8" x2="506.5" y2="180" stroke="#000" stroke-width="1.2"/>
<text x="308" y="107" font-size="6.6" text-anchor="middle" transform="translate(308 107) scale(0.9 1) translate(-308 -107)">10<tspan font-size="4.6" dy="-2.8">0</tspan></text>
<text x="319.2" y="107" font-size="6.6" text-anchor="middle" transform="translate(319.2 107) scale(0.9 1) translate(-319.2 -107)">10<tspan font-size="4.6" dy="-2.8">1</tspan></text>
<text x="328.8" y="107" font-size="6.6" text-anchor="middle" transform="translate(328.8 107) scale(0.9 1) translate(-328.8 -107)">10<tspan font-size="4.6" dy="-2.8">2</tspan></text>
<text x="342" y="107" font-size="6.6" text-anchor="middle" transform="translate(342 107) scale(0.9 1) translate(-342 -107)">10<tspan font-size="4.6" dy="-2.8">3</tspan></text>
<text x="353.5" y="107" font-size="6.6" text-anchor="middle" transform="translate(353.5 107) scale(0.9 1) translate(-353.5 -107)">10<tspan font-size="4.6" dy="-2.8">4</tspan></text>
<text x="365" y="107" font-size="6.6" text-anchor="middle" transform="translate(365 107) scale(0.9 1) translate(-365 -107)">10<tspan font-size="4.6" dy="-2.8">5</tspan></text>
<text x="380" y="107.3" font-size="6.6" text-anchor="middle" transform="translate(380 107.3) scale(0.9 1) translate(-380 -107.3)">−10<tspan font-size="4.6" dy="-2.8">3</tspan></text>
<text x="392.2" y="107.3" font-size="6.6" text-anchor="middle" transform="translate(392.2 107.3) scale(0.9 1) translate(-392.2 -107.3)">0</text>
<text x="403.3" y="107.3" font-size="6.6" text-anchor="middle" transform="translate(403.3 107.3) scale(0.9 1) translate(-403.3 -107.3)">10<tspan font-size="4.6" dy="-2.8">3</tspan></text>
<text x="420.4" y="107.3" font-size="6.6" text-anchor="middle" transform="translate(420.4 107.3) scale(0.9 1) translate(-420.4 -107.3)">10<tspan font-size="4.6" dy="-2.8">4</tspan></text>
<text x="435.8" y="107.3" font-size="6.6" text-anchor="middle" transform="translate(435.8 107.3) scale(0.9 1) translate(-435.8 -107.3)">10<tspan font-size="4.6" dy="-2.8">5</tspan></text>
<text x="450.7" y="107.3" font-size="6.6" text-anchor="middle" transform="translate(450.7 107.3) scale(0.9 1) translate(-450.7 -107.3)">−10<tspan font-size="4.6" dy="-2.8">3</tspan></text>
<text x="462.9" y="107.3" font-size="6.6" text-anchor="middle" transform="translate(462.9 107.3) scale(0.9 1) translate(-462.9 -107.3)">0</text>
<text x="474" y="107.3" font-size="6.6" text-anchor="middle" transform="translate(474 107.3) scale(0.9 1) translate(-474 -107.3)">10<tspan font-size="4.6" dy="-2.8">3</tspan></text>
<text x="491.1" y="107.3" font-size="6.6" text-anchor="middle" transform="translate(491.1 107.3) scale(0.9 1) translate(-491.1 -107.3)">10<tspan font-size="4.6" dy="-2.8">4</tspan></text>
<text x="506.5" y="107.3" font-size="6.6" text-anchor="middle" transform="translate(506.5 107.3) scale(0.9 1) translate(-506.5 -107.3)">10<tspan font-size="4.6" dy="-2.8">5</tspan></text>
<text x="308" y="188.4" font-size="6.6" text-anchor="middle" transform="translate(308 188.4) scale(0.9 1) translate(-308 -188.4)">−10<tspan font-size="4.6" dy="-2.8">3</tspan></text>
<text x="320.2" y="188.4" font-size="6.6" text-anchor="middle" transform="translate(320.2 188.4) scale(0.9 1) translate(-320.2 -188.4)">0</text>
<text x="331.3" y="188.4" font-size="6.6" text-anchor="middle" transform="translate(331.3 188.4) scale(0.9 1) translate(-331.3 -188.4)">10<tspan font-size="4.6" dy="-2.8">3</tspan></text>
<text x="348.4" y="188.4" font-size="6.6" text-anchor="middle" transform="translate(348.4 188.4) scale(0.9 1) translate(-348.4 -188.4)">10<tspan font-size="4.6" dy="-2.8">4</tspan></text>
<text x="363.8" y="188.4" font-size="6.6" text-anchor="middle" transform="translate(363.8 188.4) scale(0.9 1) translate(-363.8 -188.4)">10<tspan font-size="4.6" dy="-2.8">5</tspan></text>
<text x="380" y="188.4" font-size="6.6" text-anchor="middle" transform="translate(380 188.4) scale(0.9 1) translate(-380 -188.4)">−10<tspan font-size="4.6" dy="-2.8">3</tspan></text>
<text x="392.2" y="188.4" font-size="6.6" text-anchor="middle" transform="translate(392.2 188.4) scale(0.9 1) translate(-392.2 -188.4)">0</text>
<text x="403.3" y="188.4" font-size="6.6" text-anchor="middle" transform="translate(403.3 188.4) scale(0.9 1) translate(-403.3 -188.4)">10<tspan font-size="4.6" dy="-2.8">3</tspan></text>
<text x="420.4" y="188.4" font-size="6.6" text-anchor="middle" transform="translate(420.4 188.4) scale(0.9 1) translate(-420.4 -188.4)">10<tspan font-size="4.6" dy="-2.8">4</tspan></text>
<text x="435.8" y="188.4" font-size="6.6" text-anchor="middle" transform="translate(435.8 188.4) scale(0.9 1) translate(-435.8 -188.4)">10<tspan font-size="4.6" dy="-2.8">5</tspan></text>
<text x="450.7" y="188.4" font-size="6.6" text-anchor="middle" transform="translate(450.7 188.4) scale(0.9 1) translate(-450.7 -188.4)">−10<tspan font-size="4.6" dy="-2.8">3</tspan></text>
<text x="462.9" y="188.4" font-size="6.6" text-anchor="middle" transform="translate(462.9 188.4) scale(0.9 1) translate(-462.9 -188.4)">0</text>
<text x="474" y="188.4" font-size="6.6" text-anchor="middle" transform="translate(474 188.4) scale(0.9 1) translate(-474 -188.4)">10<tspan font-size="4.6" dy="-2.8">3</tspan></text>
<text x="491.1" y="188.4" font-size="6.6" text-anchor="middle" transform="translate(491.1 188.4) scale(0.9 1) translate(-491.1 -188.4)">10<tspan font-size="4.6" dy="-2.8">4</tspan></text>
<text x="506.5" y="188.4" font-size="6.6" text-anchor="middle" transform="translate(506.5 188.4) scale(0.9 1) translate(-506.5 -188.4)">10<tspan font-size="4.6" dy="-2.8">5</tspan></text>
<text x="281.8" y="63.25" font-size="9.5" text-anchor="middle" font-weight="bold" textLength="10.2" lengthAdjust="spacingAndGlyphs" transform="rotate(-90 281.8 63.25)" stroke-width="0.1">cKit</text>
<text x="283" y="145.3" font-size="10" text-anchor="middle" font-weight="bold" textLength="13" lengthAdjust="spacingAndGlyphs" transform="rotate(-90 283 145.3)" stroke-width="0.1">CD71</text>
<line x1="315" y1="198.1" x2="396.5" y2="198.1" stroke="#000" stroke-width="1.5"/>
<line x1="423" y1="198.1" x2="506" y2="198.1" stroke="#000" stroke-width="1.5"/>
<path d="M511 198.1 L502.5 194.6 L502.5 201.6 Z" fill="#000"/>
<text x="409.2" y="200.7" font-size="9.2" text-anchor="middle" font-weight="bold" textLength="16" lengthAdjust="spacingAndGlyphs" stroke-width="0.1">Ter119</text>
<ellipse cx="337" cy="46.8" rx="11" ry="9.6" fill="none" stroke="#a2a2a2" stroke-width="0.75" opacity="1"/>
<ellipse cx="336.6" cy="52" rx="11.2" ry="10.3" fill="none" stroke="#a2a2a2" stroke-width="0.75" opacity="1" transform="rotate(-8 336.6 52.0)"/>
<ellipse cx="337.2" cy="49.9" rx="10.4" ry="7.3" fill="url(#gk0)" stroke="none" stroke-width="0" opacity="1" filter="url(#bl)"/>
<ellipse cx="337.2" cy="49.9" rx="10" ry="7" fill="none" stroke="#8a8a8a" stroke-width="0.45" opacity="1"/>
<ellipse cx="337.4" cy="50" rx="8" ry="5.5" fill="none" stroke="#5e5e5e" stroke-width="0.45" opacity="1"/>
<ellipse cx="352.6" cy="64.4" rx="10.1" ry="13.4" fill="none" stroke="#a2a2a2" stroke-width="0.75" opacity="1"/>
<text x="308.5" y="66.9" font-size="7" textLength="11" lengthAdjust="spacingAndGlyphs">cKit</text>
<text x="308.5" y="74.5" font-size="7" textLength="17.3" lengthAdjust="spacingAndGlyphs">100%</text>
<text x="337.3" y="84" font-size="7" textLength="30.5" lengthAdjust="spacingAndGlyphs">Ter119 0%</text>
<ellipse cx="397" cy="57.2" rx="13.8" ry="10.2" fill="none" stroke="#a2a2a2" stroke-width="0.75" opacity="1" transform="rotate(-55 397 57.2)"/>
<ellipse cx="410.8" cy="65.5" rx="7.3" ry="5.5" fill="url(#gk2)" stroke="none" stroke-width="0" opacity="1" filter="url(#bl)"/>
<ellipse cx="410.8" cy="65.5" rx="7" ry="5.2" fill="none" stroke="#b8b8b8" stroke-width="0.45" opacity="1"/>
<ellipse cx="410.8" cy="65.5" rx="5.6" ry="4.2" fill="none" stroke="#b8b8b8" stroke-width="0.45" opacity="1"/>
<ellipse cx="410.8" cy="65.5" rx="4.2" ry="3.2" fill="none" stroke="#b8b8b8" stroke-width="0.45" opacity="1"/>
<ellipse cx="410.8" cy="65.5" rx="2.8" ry="2.2" fill="none" stroke="#b8b8b8" stroke-width="0.45" opacity="1"/>
<ellipse cx="410.8" cy="65.5" rx="1.5" ry="1.2" fill="none" stroke="#b8b8b8" stroke-width="0.45" opacity="1"/>
<ellipse cx="412.7" cy="70.8" rx="9.9" ry="13.5" fill="none" stroke="#a2a2a2" stroke-width="0.75" opacity="1"/>
<ellipse cx="398.9" cy="59.2" rx="6.2" ry="9.2" fill="url(#gk1)" stroke="none" stroke-width="0" opacity="1" transform="rotate(-12 398.9 59.2)" filter="url(#bl)"/>
<text x="381.6" y="75.8" font-size="7" textLength="13.5" lengthAdjust="spacingAndGlyphs">65%</text>
<text x="419.2" y="88.2" font-size="7" textLength="13.5" lengthAdjust="spacingAndGlyphs">21%</text>
<ellipse cx="467.2" cy="56.6" rx="13.8" ry="10.2" fill="none" stroke="#a2a2a2" stroke-width="0.75" opacity="1" transform="rotate(-55 467.2 56.6)"/>
<ellipse cx="478.9" cy="66.5" rx="7.3" ry="5.5" fill="url(#gk2)" stroke="none" stroke-width="0" opacity="1" filter="url(#bl)"/>
<ellipse cx="478.9" cy="66.5" rx="7" ry="5.2" fill="none" stroke="#b8b8b8" stroke-width="0.45" opacity="1"/>
<ellipse cx="478.9" cy="66.5" rx="5.6" ry="4.2" fill="none" stroke="#b8b8b8" stroke-width="0.45" opacity="1"/>
<ellipse cx="478.9" cy="66.5" rx="4.2" ry="3.2" fill="none" stroke="#b8b8b8" stroke-width="0.45" opacity="1"/>
<ellipse cx="478.9" cy="66.5" rx="2.8" ry="2.2" fill="none" stroke="#b8b8b8" stroke-width="0.45" opacity="1"/>
<ellipse cx="478.9" cy="66.5" rx="1.5" ry="1.2" fill="none" stroke="#b8b8b8" stroke-width="0.45" opacity="1"/>
<ellipse cx="480.8" cy="71.8" rx="9.9" ry="13.5" fill="none" stroke="#a2a2a2" stroke-width="0.75" opacity="1"/>
<ellipse cx="469.1" cy="58.6" rx="6.2" ry="9.2" fill="url(#gk1)" stroke="none" stroke-width="0" opacity="1" transform="rotate(-12 469.09999999999997 58.6)" filter="url(#bl)"/>
<text x="455.2" y="76.3" font-size="7" textLength="13.5" lengthAdjust="spacingAndGlyphs">72%</text>
<text x="487" y="88.2" font-size="7" textLength="13.5" lengthAdjust="spacingAndGlyphs">17%</text>
<rect x="313.3" y="118.4" width="17.3" height="11.2" fill="none" stroke="#a2a2a2" stroke-width="0.7"/>
<rect x="313.3" y="135.7" width="17.3" height="32.6" fill="none" stroke="#a2a2a2" stroke-width="0.7"/>
<rect x="318.7" y="143.9" width="7.4" height="18.2" rx="3.6" fill="#8a8a8a" filter="url(#bl)"/>
<rect x="319.4" y="144.8" width="6.0" height="16.4" rx="3.0" fill="#2e2e2e" filter="url(#bl)"/>
<rect x="320.9" y="147.0" width="3.0" height="12.0" rx="1.5" fill="#5a5a5a" filter="url(#bl)"/>
<line x1="322.4" y1="147.5" x2="322.4" y2="158.5" stroke="#9a9a9a" stroke-width="0.6"/>
<text x="332" y="127.6" font-size="7" textLength="31" lengthAdjust="spacingAndGlyphs">CD71<tspan font-size="4.8" dy="-2.8">hi</tspan><tspan dy="2.8"> 0%</tspan></text>
<text x="332" y="158.6" font-size="7" textLength="29.5" lengthAdjust="spacingAndGlyphs">CD71<tspan font-size="4.8" dy="-2.8">lo/neg</tspan></text>
<text x="338.3" y="166.6" font-size="7" textLength="17.3" lengthAdjust="spacingAndGlyphs">100%</text>
<path d="M394.5 158 C392.3 154 391.6 146 391.8 138 C392 131 393 126 395.5 123.8 C398 121.4 401 120.8 404 120.8 C407 120.8 411 121.2 415.2 124.5 C417.2 127 415.5 131.5 410.5 133.3 C407 134.3 404.5 133.5 402.6 136.5 C401.3 139.5 401.4 146 400.2 151 C399.2 155 397.5 158 396 158.6 C395.3 158.8 394.8 158.5 394.5 158 Z" fill="url(#hg389)" filter="url(#bl)"/>
<ellipse cx="410.8" cy="127.3" rx="5.3" ry="5" fill="#d4d4d4" filter="url(#bl)"/>
<ellipse cx="410.8" cy="127.3" rx="5" ry="4.6" fill="none" stroke="#b4b4b4" stroke-width="0.45" opacity="1"/>
<ellipse cx="410.8" cy="127.3" rx="3.8" ry="3.5" fill="none" stroke="#b4b4b4" stroke-width="0.45" opacity="1"/>
<ellipse cx="410.8" cy="127.3" rx="2.6" ry="2.4" fill="none" stroke="#b4b4b4" stroke-width="0.45" opacity="1"/>
<ellipse cx="410.8" cy="127.3" rx="1.4" ry="1.3" fill="none" stroke="#b4b4b4" stroke-width="0.45" opacity="1"/>
<path d="M393.6 130 C394.5 125.5 397.5 122.8 401.5 122.5 C404.5 122.3 406.8 123 408.2 124.5" fill="none" stroke="#8c8c8c" stroke-width="2.2" filter="url(#bl)"/>
<rect x="389.4" y="118.4" width="16.6" height="9.8" fill="none" stroke="#a2a2a2" stroke-width="0.7"/>
<rect x="389.4" y="136.1" width="16.6" height="31.8" fill="none" stroke="#a2a2a2" stroke-width="0.7"/>
<text x="418.5" y="127.8" font-size="7" textLength="13.5" lengthAdjust="spacingAndGlyphs">27%</text>
<text x="418.5" y="164.2" font-size="7" textLength="13.5" lengthAdjust="spacingAndGlyphs">30%</text>
<path d="M465.2 158 C463 154 462.3 146 462.5 138 C462.7 131 463.7 126 466.2 123.8 C468.7 121.4 471.7 120.8 474.7 120.8 C477.7 120.8 483.9 121.2 488.1 124.5 C490.1 127 488.4 131.5 483.4 133.3 C479.9 134.3 475.2 133.5 473.3 136.5 C472 139.5 472.1 146 470.9 151 C469.9 155 468.2 158 466.7 158.6 C466 158.8 465.5 158.5 465.2 158 Z" fill="url(#hg460)" filter="url(#bl)"/>
<ellipse cx="483.7" cy="127.3" rx="5.3" ry="5" fill="#d4d4d4" filter="url(#bl)"/>
<ellipse cx="483.7" cy="127.3" rx="5" ry="4.6" fill="none" stroke="#b4b4b4" stroke-width="0.45" opacity="1"/>
<ellipse cx="483.7" cy="127.3" rx="3.8" ry="3.5" fill="none" stroke="#b4b4b4" stroke-width="0.45" opacity="1"/>
<ellipse cx="483.7" cy="127.3" rx="2.6" ry="2.4" fill="none" stroke="#b4b4b4" stroke-width="0.45" opacity="1"/>
<ellipse cx="483.7" cy="127.3" rx="1.4" ry="1.3" fill="none" stroke="#b4b4b4" stroke-width="0.45" opacity="1"/>
<path d="M464.3 130 C465.2 125.5 468.2 122.8 472.2 122.5 C475.2 122.3 477.5 123 478.9 124.5" fill="none" stroke="#8c8c8c" stroke-width="2.2" filter="url(#bl)"/>
<rect x="460.1" y="118.4" width="16.6" height="9.8" fill="none" stroke="#a2a2a2" stroke-width="0.7"/>
<rect x="460.1" y="136.1" width="16.6" height="31.8" fill="none" stroke="#a2a2a2" stroke-width="0.7"/>
<text x="488.5" y="127.8" font-size="7" textLength="13.5" lengthAdjust="spacingAndGlyphs">15%</text>
<text x="488.5" y="164.2" font-size="7" textLength="13.5" lengthAdjust="spacingAndGlyphs">47%</text>
<text x="7.5" y="218.8" font-size="12.3" font-weight="bold" fill="#000">C</text>
<rect x="22" y="223" width="10.7" height="10.5" fill="#c50b35"/>
<text x="36.3" y="231.1" font-size="7.4">BFU-E</text>
<rect x="22" y="238.2" width="10.7" height="10.5" fill="#73b743"/>
<text x="36.3" y="246.3" font-size="7.4">CFU-E</text>
<rect x="76.3" y="223" width="10.7" height="10.5" fill="#2e5492"/>
<text x="90.6" y="231.1" font-size="7.4">mCFU-E</text>
<rect x="76.3" y="238.2" width="10.7" height="10.5" fill="#5b2a7c"/>
<text x="90.6" y="246.3" font-size="7.4">Non-erythroid</text>
<line x1="43.2" y1="257.8" x2="43.2" y2="362.35" stroke="#111" stroke-width="1.4"/>
<line x1="43.2" y1="361.75" x2="117.5" y2="361.75" stroke="#111" stroke-width="1.3"/>
<line x1="40.2" y1="361.75" x2="43.2" y2="361.75" stroke="#111" stroke-width="1"/>
<text x="35.3" y="364.35" font-size="7.5" text-anchor="end" textLength="4.25" lengthAdjust="spacingAndGlyphs">0</text>
<line x1="40.2" y1="341.65" x2="43.2" y2="341.65" stroke="#111" stroke-width="1"/>
<text x="35.3" y="344.25" font-size="7.5" text-anchor="end" textLength="8.5" lengthAdjust="spacingAndGlyphs">20</text>
<line x1="40.2" y1="321.55" x2="43.2" y2="321.55" stroke="#111" stroke-width="1"/>
<text x="35.3" y="324.15" font-size="7.5" text-anchor="end" textLength="8.5" lengthAdjust="spacingAndGlyphs">40</text>
<line x1="40.2" y1="301.45" x2="43.2" y2="301.45" stroke="#111" stroke-width="1"/>
<text x="35.3" y="304.05" font-size="7.5" text-anchor="end" textLength="8.5" lengthAdjust="spacingAndGlyphs">60</text>
<line x1="40.2" y1="281.35" x2="43.2" y2="281.35" stroke="#111" stroke-width="1"/>
<text x="35.3" y="283.95" font-size="7.5" text-anchor="end" textLength="8.5" lengthAdjust="spacingAndGlyphs">80</text>
<line x1="40.2" y1="261.25" x2="43.2" y2="261.25" stroke="#111" stroke-width="1"/>
<text x="35.3" y="263.85" font-size="7.5" text-anchor="end" textLength="12.75" lengthAdjust="spacingAndGlyphs">100</text>
<rect x="51.75" y="338.13" width="20.25" height="23.62" fill="#c50b35"/>
<rect x="51.75" y="319.84" width="20.25" height="18.29" fill="#2e5492"/>
<rect x="51.75" y="307.78" width="20.25" height="12.06" fill="#73b743"/>
<rect x="51.75" y="283.36" width="20.25" height="24.42" fill="#5b2a7c"/>
<rect x="89.5" y="317.83" width="20" height="43.92" fill="#c50b35"/>
<rect x="89.5" y="304.47" width="20" height="13.37" fill="#2e5492"/>
<rect x="89.5" y="297.43" width="20" height="7.03" fill="#73b743"/>
<rect x="89.5" y="276.32" width="20" height="21.1" fill="#5b2a7c"/>
<line x1="61.9" y1="282.76" x2="61.9" y2="283.36" stroke="#111" stroke-width="1.2"/>
<line x1="59.4" y1="282.76" x2="64.4" y2="282.76" stroke="#111" stroke-width="1.2"/>
<path d="M60.3 283.36 L63.5 283.36 L61.9 281.76 Z" fill="#111"/>
<line x1="61.9" y1="306.98" x2="61.9" y2="307.78" stroke="#111" stroke-width="1.2"/>
<line x1="59.4" y1="306.98" x2="64.4" y2="306.98" stroke="#111" stroke-width="1.2"/>
<path d="M60.3 307.78 L63.5 307.78 L61.9 306.18 Z" fill="#111"/>
<line x1="61.9" y1="319.04" x2="61.9" y2="319.84" stroke="#111" stroke-width="1.2"/>
<line x1="59.4" y1="319.04" x2="64.4" y2="319.04" stroke="#111" stroke-width="1.2"/>
<path d="M60.3 319.84 L63.5 319.84 L61.9 318.24 Z" fill="#111"/>
<line x1="61.9" y1="334.62" x2="61.9" y2="338.13" stroke="#111" stroke-width="1.2"/>
<line x1="59.4" y1="334.62" x2="64.4" y2="334.62" stroke="#111" stroke-width="1.2"/>
<path d="M60.3 338.13 L63.5 338.13 L61.9 336.53 Z" fill="#111"/>
<line x1="99.5" y1="275.02" x2="99.5" y2="276.32" stroke="#111" stroke-width="1.2"/>
<line x1="97" y1="275.02" x2="102" y2="275.02" stroke="#111" stroke-width="1.2"/>
<path d="M97.9 276.32 L101.1 276.32 L99.5 274.72 Z" fill="#111"/>
<line x1="99.5" y1="295.62" x2="99.5" y2="297.43" stroke="#111" stroke-width="1.2"/>
<line x1="97" y1="295.62" x2="102" y2="295.62" stroke="#111" stroke-width="1.2"/>
<path d="M97.9 297.43 L101.1 297.43 L99.5 295.83 Z" fill="#111"/>
<line x1="99.5" y1="301.45" x2="99.5" y2="304.47" stroke="#111" stroke-width="1.2"/>
<line x1="97" y1="301.45" x2="102" y2="301.45" stroke="#111" stroke-width="1.2"/>
<path d="M97.9 304.47 L101.1 304.47 L99.5 302.87 Z" fill="#111"/>
<line x1="99.5" y1="312.5" x2="99.5" y2="317.83" stroke="#111" stroke-width="1.2"/>
<line x1="97" y1="312.5" x2="102" y2="312.5" stroke="#111" stroke-width="1.2"/>
<path d="M97.9 317.83 L101.1 317.83 L99.5 316.23 Z" fill="#111"/>
<circle cx="99.8" cy="271.3" r="1.05" fill="#222"/>
<text x="15.8" y="310" font-size="9.4" text-anchor="middle" font-weight="bold" textLength="25.5" lengthAdjust="spacingAndGlyphs" transform="rotate(-90 15.8 310)" stroke-width="0.1">Colonies</text>
<text x="65.2" y="369.8" font-size="8" text-anchor="end" textLength="44" lengthAdjust="spacingAndGlyphs" transform="rotate(-45 65.2 369.8)">- calcipotriol</text>
<text x="104" y="372.8" font-size="8" text-anchor="end" textLength="48" lengthAdjust="spacingAndGlyphs" transform="rotate(-45 104 372.8)">+ calcipotriol</text>
<text x="156" y="219.2" font-size="12.3" font-weight="bold" fill="#000">D</text>
<line x1="190.5" y1="232" x2="207" y2="232" stroke="#a8173f" stroke-width="1.5"/>
<circle cx="199" cy="232" r="2.4" fill="#a8173f"/>
<text x="210.4" y="234" font-size="7.4" textLength="40.6" lengthAdjust="spacingAndGlyphs">- calcipotriol</text>
<line x1="190.5" y1="245.8" x2="207" y2="245.8" stroke="#27457a" stroke-width="1.5"/>
<rect x="196.6" y="243.4" width="4.8" height="4.8" fill="#27457a"/>
<text x="211" y="248.3" font-size="7.4" textLength="42.3" lengthAdjust="spacingAndGlyphs">+ calcipotriol</text>
<line x1="190" y1="267.7" x2="190" y2="361.75" stroke="#111" stroke-width="1.4"/>
<line x1="190" y1="361.75" x2="291.5" y2="361.75" stroke="#111" stroke-width="1.3"/>
<line x1="187" y1="361.75" x2="190" y2="361.75" stroke="#111" stroke-width="1"/>
<text x="182.8" y="364.35" font-size="7.5" text-anchor="end" textLength="4.25" lengthAdjust="spacingAndGlyphs">0</text>
<line x1="187" y1="339" x2="190" y2="339" stroke="#111" stroke-width="1"/>
<text x="182.8" y="341.6" font-size="7.5" text-anchor="end" textLength="4.25" lengthAdjust="spacingAndGlyphs">4</text>
<line x1="187" y1="316.25" x2="190" y2="316.25" stroke="#111" stroke-width="1"/>
<text x="182.8" y="318.85" font-size="7.5" text-anchor="end" textLength="4.25" lengthAdjust="spacingAndGlyphs">8</text>
<line x1="187" y1="293.5" x2="190" y2="293.5" stroke="#111" stroke-width="1"/>
<text x="182.8" y="296.1" font-size="7.5" text-anchor="end" textLength="8.5" lengthAdjust="spacingAndGlyphs">12</text>
<line x1="187" y1="270.75" x2="190" y2="270.75" stroke="#111" stroke-width="1"/>
<text x="182.8" y="273.35" font-size="7.5" text-anchor="end" textLength="8.5" lengthAdjust="spacingAndGlyphs">16</text>
<line x1="190" y1="361.75" x2="190" y2="364.75" stroke="#111" stroke-width="1"/>
<text x="190" y="375.7" font-size="7.5" text-anchor="middle">0</text>
<line x1="214.4" y1="361.75" x2="214.4" y2="364.75" stroke="#111" stroke-width="1"/>
<text x="214.4" y="375.7" font-size="7.5" text-anchor="middle">2</text>
<line x1="238.8" y1="361.75" x2="238.8" y2="364.75" stroke="#111" stroke-width="1"/>
<text x="238.8" y="375.7" font-size="7.5" text-anchor="middle">4</text>
<line x1="263.2" y1="361.75" x2="263.2" y2="364.75" stroke="#111" stroke-width="1"/>
<text x="263.2" y="375.7" font-size="7.5" text-anchor="middle">6</text>
<line x1="287.6" y1="361.75" x2="287.6" y2="364.75" stroke="#111" stroke-width="1"/>
<text x="287.6" y="375.7" font-size="7.5" text-anchor="middle">8</text>
<text x="240.7" y="389.4" font-size="9.2" text-anchor="middle" font-weight="bold" textLength="11" lengthAdjust="spacingAndGlyphs" stroke-width="0.1">Day</text>
<text x="167" y="314.8" font-size="8.8" text-anchor="middle" font-weight="bold" textLength="49.5" lengthAdjust="spacingAndGlyphs" transform="rotate(-90 167 314.8)" stroke-width="0.1">Cells/mL (x10<tspan font-size="6" dy="-3.2">6</tspan><tspan dy="3.2">)</tspan></text>
<path d="M190 361.75 C194.07 361.75 208.3 361.94 214.4 361.75 C220.5 361.56 222.53 361.56 226.6 360.61 C230.67 359.66 234.73 358.05 238.8 356.06 C242.87 354.07 246.93 351.04 251 348.67 C255.07 346.3 259.13 342.22 263.2 341.84 C267.27 341.46 273.37 345.64 275.4 346.39" fill="none" stroke="#a8173f" stroke-width="1.5"/>
<circle cx="190" cy="361.75" r="2.5" fill="#a8173f"/>
<circle cx="214.4" cy="361.75" r="2.5" fill="#a8173f"/>
<circle cx="226.6" cy="360.61" r="2.5" fill="#a8173f"/>
<circle cx="238.8" cy="356.06" r="2.5" fill="#a8173f"/>
<circle cx="251" cy="348.67" r="2.5" fill="#a8173f"/>
<circle cx="263.2" cy="341.84" r="2.5" fill="#a8173f"/>
<circle cx="275.4" cy="346.39" r="2.5" fill="#a8173f"/>
<path d="M190 361.75 C194.07 361.75 208.3 361.94 214.4 361.75 C220.5 361.56 222.53 361.61 226.6 360.61 C230.67 359.62 234.73 358.58 238.8 355.78 C242.87 352.97 246.93 352.36 251 343.78 C255.07 335.2 259.13 307.76 263.2 304.31 C267.27 300.86 273.37 319.95 275.4 323.07" fill="none" stroke="#27457a" stroke-width="1.5"/>
<rect x="187.5" y="359.25" width="5" height="5" fill="#27457a"/>
<rect x="211.9" y="359.25" width="5" height="5" fill="#27457a"/>
<rect x="224.1" y="358.11" width="5" height="5" fill="#27457a"/>
<rect x="236.3" y="353.28" width="5" height="5" fill="#27457a"/>
<rect x="248.5" y="341.28" width="5" height="5" fill="#27457a"/>
<rect x="260.7" y="301.81" width="5" height="5" fill="#27457a"/>
<rect x="272.9" y="320.57" width="5" height="5" fill="#27457a"/>
<line x1="263.7" y1="302.5" x2="263.7" y2="306.5" stroke="#111" stroke-width="1.2"/>
<line x1="261.7" y1="302.5" x2="265.7" y2="302.5" stroke="#111" stroke-width="1.2"/>
<line x1="261.7" y1="306.5" x2="265.7" y2="306.5" stroke="#111" stroke-width="1.2"/>
<circle cx="262.05" cy="296.6" r="1.05" fill="#222"/>
<circle cx="265.35" cy="296.6" r="1.05" fill="#222"/>
<text x="311.2" y="219.3" font-size="12.3" font-weight="bold" fill="#000">E</text>
<rect x="347" y="222.5" width="11" height="10.8" fill="#c50b35"/>
<text x="361.3" y="230.7" font-size="7.4">BFU-E</text>
<rect x="347" y="237.7" width="11" height="10.8" fill="#73b743"/>
<text x="361.3" y="245.9" font-size="7.4">CFU-E</text>
<rect x="402" y="222.5" width="11" height="10.8" fill="#2e5492"/>
<text x="416.3" y="230.7" font-size="7.4">mCFU-E</text>
<rect x="402" y="237.7" width="11" height="10.8" fill="#5b2a7c"/>
<text x="416.3" y="245.9" font-size="7.4">Non-Ery</text>
<line x1="346.6" y1="260.8" x2="346.6" y2="362.6" stroke="#111" stroke-width="1.4"/>
<line x1="346.6" y1="362" x2="444" y2="362" stroke="#111" stroke-width="1.3"/>
<line x1="343.6" y1="362" x2="346.6" y2="362" stroke="#111" stroke-width="1"/>
<text x="339.4" y="364.6" font-size="7.5" text-anchor="end" textLength="4.25" lengthAdjust="spacingAndGlyphs">0</text>
<line x1="343.6" y1="342.45" x2="346.6" y2="342.45" stroke="#111" stroke-width="1"/>
<text x="339.4" y="345.05" font-size="7.5" text-anchor="end" textLength="8.5" lengthAdjust="spacingAndGlyphs">20</text>
<line x1="343.6" y1="322.9" x2="346.6" y2="322.9" stroke="#111" stroke-width="1"/>
<text x="339.4" y="325.5" font-size="7.5" text-anchor="end" textLength="8.5" lengthAdjust="spacingAndGlyphs">40</text>
<line x1="343.6" y1="303.35" x2="346.6" y2="303.35" stroke="#111" stroke-width="1"/>
<text x="339.4" y="305.95" font-size="7.5" text-anchor="end" textLength="8.5" lengthAdjust="spacingAndGlyphs">60</text>
<line x1="343.6" y1="283.8" x2="346.6" y2="283.8" stroke="#111" stroke-width="1"/>
<text x="339.4" y="286.4" font-size="7.5" text-anchor="end" textLength="8.5" lengthAdjust="spacingAndGlyphs">80</text>
<line x1="343.6" y1="264.25" x2="346.6" y2="264.25" stroke="#111" stroke-width="1"/>
<text x="339.4" y="266.85" font-size="7.5" text-anchor="end" textLength="12.75" lengthAdjust="spacingAndGlyphs">100</text>
<rect x="350" y="349.98" width="13.8" height="12.02" fill="#c50b35"/>
<rect x="350" y="341.28" width="13.8" height="8.7" fill="#2e5492"/>
<rect x="350" y="330.52" width="13.8" height="10.75" fill="#73b743"/>
<rect x="350" y="317.52" width="13.8" height="13" fill="#5b2a7c"/>
<rect x="369.5" y="357.11" width="13.5" height="4.89" fill="#c50b35"/>
<rect x="369.5" y="351.25" width="13.5" height="5.87" fill="#2e5492"/>
<rect x="369.5" y="322.51" width="13.5" height="28.74" fill="#73b743"/>
<rect x="369.5" y="317.03" width="13.5" height="5.47" fill="#5b2a7c"/>
<rect x="389.5" y="351.25" width="13.5" height="10.75" fill="#c50b35"/>
<rect x="389.5" y="335.61" width="13.5" height="15.64" fill="#2e5492"/>
<rect x="389.5" y="321.92" width="13.5" height="13.69" fill="#73b743"/>
<rect x="389.5" y="314.49" width="13.5" height="7.43" fill="#5b2a7c"/>
<rect x="409.5" y="352.03" width="13" height="9.97" fill="#c50b35"/>
<rect x="409.5" y="339.52" width="13" height="12.51" fill="#2e5492"/>
<rect x="409.5" y="319.48" width="13" height="20.04" fill="#73b743"/>
<rect x="409.5" y="311.17" width="13" height="8.31" fill="#5b2a7c"/>
<rect x="428.8" y="342.45" width="13.7" height="19.55" fill="#c50b35"/>
<rect x="428.8" y="326.22" width="13.7" height="16.23" fill="#2e5492"/>
<rect x="428.8" y="308.04" width="13.7" height="18.18" fill="#73b743"/>
<rect x="428.8" y="300.03" width="13.7" height="8.02" fill="#5b2a7c"/>
<line x1="356.9" y1="316.74" x2="356.9" y2="317.52" stroke="#111" stroke-width="1.2"/>
<line x1="354.65" y1="316.74" x2="359.15" y2="316.74" stroke="#111" stroke-width="1.2"/>
<path d="M355.3 317.52 L358.5 317.52 L356.9 315.92 Z" fill="#111"/>
<line x1="356.9" y1="349" x2="356.9" y2="349.98" stroke="#111" stroke-width="1.2"/>
<line x1="354.65" y1="349" x2="359.15" y2="349" stroke="#111" stroke-width="1.2"/>
<path d="M355.3 349.98 L358.5 349.98 L356.9 348.38 Z" fill="#111"/>
<line x1="356.9" y1="340.3" x2="356.9" y2="341.28" stroke="#111" stroke-width="1.2"/>
<line x1="354.65" y1="340.3" x2="359.15" y2="340.3" stroke="#111" stroke-width="1.2"/>
<path d="M355.3 341.28 L358.5 341.28 L356.9 339.68 Z" fill="#111"/>
<line x1="376.2" y1="316.25" x2="376.2" y2="317.03" stroke="#111" stroke-width="1.2"/>
<line x1="373.95" y1="316.25" x2="378.45" y2="316.25" stroke="#111" stroke-width="1.2"/>
<path d="M374.6 317.03 L377.8 317.03 L376.2 315.43 Z" fill="#111"/>
<line x1="376.2" y1="350.27" x2="376.2" y2="351.25" stroke="#111" stroke-width="1.2"/>
<line x1="373.95" y1="350.27" x2="378.45" y2="350.27" stroke="#111" stroke-width="1.2"/>
<path d="M374.6 351.25 L377.8 351.25 L376.2 349.65 Z" fill="#111"/>
<line x1="376.2" y1="356.13" x2="376.2" y2="357.11" stroke="#111" stroke-width="1.2"/>
<line x1="373.95" y1="356.13" x2="378.45" y2="356.13" stroke="#111" stroke-width="1.2"/>
<path d="M374.6 357.11 L377.8 357.11 L376.2 355.51 Z" fill="#111"/>
<line x1="396.2" y1="313.81" x2="396.2" y2="314.49" stroke="#111" stroke-width="1.2"/>
<line x1="393.95" y1="313.81" x2="398.45" y2="313.81" stroke="#111" stroke-width="1.2"/>
<path d="M394.6 314.49 L397.8 314.49 L396.2 312.89 Z" fill="#111"/>
<line x1="396.2" y1="333.16" x2="396.2" y2="335.61" stroke="#111" stroke-width="1.2"/>
<line x1="393.95" y1="333.16" x2="398.45" y2="333.16" stroke="#111" stroke-width="1.2"/>
<path d="M394.6 335.61 L397.8 335.61 L396.2 334.01 Z" fill="#111"/>
<line x1="396.2" y1="349.78" x2="396.2" y2="351.25" stroke="#111" stroke-width="1.2"/>
<line x1="393.95" y1="349.78" x2="398.45" y2="349.78" stroke="#111" stroke-width="1.2"/>
<path d="M394.6 351.25 L397.8 351.25 L396.2 349.65 Z" fill="#111"/>
<line x1="416" y1="310.39" x2="416" y2="311.17" stroke="#111" stroke-width="1.2"/>
<line x1="413.75" y1="310.39" x2="418.25" y2="310.39" stroke="#111" stroke-width="1.2"/>
<path d="M414.4 311.17 L417.6 311.17 L416 309.57 Z" fill="#111"/>
<line x1="416" y1="338.05" x2="416" y2="339.52" stroke="#111" stroke-width="1.2"/>
<line x1="413.75" y1="338.05" x2="418.25" y2="338.05" stroke="#111" stroke-width="1.2"/>
<path d="M414.4 339.52 L417.6 339.52 L416 337.92 Z" fill="#111"/>
<line x1="416" y1="351.05" x2="416" y2="352.03" stroke="#111" stroke-width="1.2"/>
<line x1="413.75" y1="351.05" x2="418.25" y2="351.05" stroke="#111" stroke-width="1.2"/>
<path d="M414.4 352.03 L417.6 352.03 L416 350.43 Z" fill="#111"/>
<line x1="435.6" y1="298.27" x2="435.6" y2="300.03" stroke="#111" stroke-width="1.2"/>
<line x1="433.35" y1="298.27" x2="437.85" y2="298.27" stroke="#111" stroke-width="1.2"/>
<path d="M434 300.03 L437.2 300.03 L435.6 298.43 Z" fill="#111"/>
<line x1="435.6" y1="325.05" x2="435.6" y2="326.22" stroke="#111" stroke-width="1.2"/>
<line x1="433.35" y1="325.05" x2="437.85" y2="325.05" stroke="#111" stroke-width="1.2"/>
<path d="M434 326.22 L437.2 326.22 L435.6 324.62 Z" fill="#111"/>
<line x1="435.6" y1="340.01" x2="435.6" y2="342.45" stroke="#111" stroke-width="1.2"/>
<line x1="433.35" y1="340.01" x2="437.85" y2="340.01" stroke="#111" stroke-width="1.2"/>
<path d="M434 342.45 L437.2 342.45 L435.6 340.85 Z" fill="#111"/>
<line x1="350" y1="276.2" x2="363.8" y2="276.2" stroke="#111" stroke-width="1.3"/>
<line x1="369.5" y1="276.2" x2="443.5" y2="276.2" stroke="#111" stroke-width="1.3"/>
<text x="351.8" y="272.5" font-size="7">d0</text>
<text x="401" y="272.5" font-size="7">d1</text>
<path d="M350 313 L350 310.5 L363.8 310.5 L363.8 313" fill="none" stroke="#111" stroke-width="1.1"/>
<line x1="356.9" y1="310.5" x2="356.9" y2="301.3" stroke="#111" stroke-width="1.1"/>
<path d="M369.5 313 L369.5 310.5 L383 310.5 L383 313" fill="none" stroke="#111" stroke-width="1.1"/>
<line x1="376.25" y1="310.5" x2="376.25" y2="301.3" stroke="#111" stroke-width="1.1"/>
<line x1="356.9" y1="301.3" x2="376.25" y2="301.3" stroke="#111" stroke-width="1.1"/>
<circle cx="366.3" cy="297.5" r="1.05" fill="#222"/>
<path d="M389.5 305.5 L389.5 303 L422.5 303 L422.5 305.5" fill="none" stroke="#111" stroke-width="1.1"/>
<line x1="406" y1="303" x2="406" y2="287.5" stroke="#111" stroke-width="1.1"/>
<path d="M428.8 296.3 L428.8 293.8 L442.5 293.8 L442.5 296.3" fill="none" stroke="#111" stroke-width="1.1"/>
<line x1="435.65" y1="293.8" x2="435.65" y2="287.5" stroke="#111" stroke-width="1.1"/>
<line x1="406" y1="287.5" x2="435.6" y2="287.5" stroke="#111" stroke-width="1.1"/>
<circle cx="421.3" cy="282.5" r="1.05" fill="#222"/>
<text x="311.1" y="371.8" font-size="7.4" textLength="28.3" lengthAdjust="spacingAndGlyphs">calcitriol</text>
<text x="311.1" y="381.9" font-size="7.4" textLength="11" lengthAdjust="spacingAndGlyphs">dex</text>
<text x="356.9" y="371.8" font-size="7.4" text-anchor="middle">-</text>
<text x="356.9" y="381.9" font-size="7.4" text-anchor="middle">-</text>
<text x="376.2" y="371.8" font-size="7.4" text-anchor="middle">-</text>
<text x="376.2" y="381.9" font-size="7.4" text-anchor="middle">-</text>
<text x="396.2" y="371.8" font-size="7.4" text-anchor="middle">+</text>
<text x="396.2" y="381.9" font-size="7.4" text-anchor="middle">-</text>
<text x="416" y="371.8" font-size="7.4" text-anchor="middle">-</text>
<text x="416" y="381.9" font-size="7.4" text-anchor="middle">+</text>
<text x="435.6" y="371.8" font-size="7.4" text-anchor="middle">+</text>
<text x="435.6" y="381.9" font-size="7.4" text-anchor="middle">+</text>
<text x="320" y="311.4" font-size="9.4" text-anchor="middle" font-weight="bold" textLength="25.2" lengthAdjust="spacingAndGlyphs" transform="rotate(-90 320 311.4)" stroke-width="0.1">Colonies</text>
<text x="7.4" y="422.9" font-size="12.3" font-weight="bold" fill="#000">F</text>
<line x1="85.5" y1="429.3" x2="102.5" y2="429.3" stroke="#a8173f" stroke-width="1.4"/>
<circle cx="93.8" cy="429.3" r="2.3" fill="#a8173f"/>
<text x="104.3" y="431.7" font-size="6.7" textLength="23.2" lengthAdjust="spacingAndGlyphs">vehicle</text>
<line x1="137.5" y1="429.3" x2="153" y2="429.3" stroke="#27457a" stroke-width="1.4"/>
<rect x="143.2" y="427" width="4.6" height="4.6" fill="#27457a"/>
<text x="155.5" y="431.7" font-size="6.7" textLength="28.3" lengthAdjust="spacingAndGlyphs">calcitriol</text>
<line x1="193" y1="429.3" x2="209.5" y2="429.3" stroke="#6aa843" stroke-width="1.4"/>
<path d="M201.2 426.3 L204 429.3 L201.2 432.3 L198.4 429.3 Z" fill="#6aa843"/>
<text x="212" y="431.7" font-size="6.7" textLength="11.7" lengthAdjust="spacingAndGlyphs">dex</text>
<line x1="233.7" y1="429.3" x2="250" y2="429.3" stroke="#35195a" stroke-width="1.4"/>
<path d="M242 426.5 L244.8 431.3 L239.2 431.3 Z" fill="#35195a"/>
<text x="252.5" y="431.7" font-size="6.7" textLength="48.7" lengthAdjust="spacingAndGlyphs">calcitriol + dex</text>
<line x1="42.1" y1="445" x2="42.1" y2="527" stroke="#111" stroke-width="1.4"/>
<line x1="42.1" y1="527" x2="129.5" y2="527" stroke="#111" stroke-width="1.3"/>
<line x1="39.1" y1="527" x2="42.1" y2="527" stroke="#111" stroke-width="1"/>
<text x="35.5" y="529.6" font-size="7.5" text-anchor="end" textLength="4.25" lengthAdjust="spacingAndGlyphs">0</text>
<line x1="39.1" y1="503.42" x2="42.1" y2="503.42" stroke="#111" stroke-width="1"/>
<text x="35.5" y="506.02" font-size="7.5" text-anchor="end" textLength="4.25" lengthAdjust="spacingAndGlyphs">2</text>
<line x1="39.1" y1="479.83" x2="42.1" y2="479.83" stroke="#111" stroke-width="1"/>
<text x="35.5" y="482.43" font-size="7.5" text-anchor="end" textLength="4.25" lengthAdjust="spacingAndGlyphs">4</text>
<line x1="39.1" y1="456.25" x2="42.1" y2="456.25" stroke="#111" stroke-width="1"/>
<text x="35.5" y="458.85" font-size="7.5" text-anchor="end" textLength="4.25" lengthAdjust="spacingAndGlyphs">6</text>
<line x1="42.1" y1="527" x2="42.1" y2="530" stroke="#111" stroke-width="1"/>
<text x="42.1" y="540.3" font-size="7.5" text-anchor="middle">0</text>
<line x1="58.96" y1="527" x2="58.96" y2="530" stroke="#111" stroke-width="1"/>
<text x="58.96" y="540.3" font-size="7.5" text-anchor="middle">2</text>
<line x1="75.82" y1="527" x2="75.82" y2="530" stroke="#111" stroke-width="1"/>
<text x="75.82" y="540.3" font-size="7.5" text-anchor="middle">4</text>
<line x1="92.68" y1="527" x2="92.68" y2="530" stroke="#111" stroke-width="1"/>
<text x="92.68" y="540.3" font-size="7.5" text-anchor="middle">6</text>
<line x1="109.54" y1="527" x2="109.54" y2="530" stroke="#111" stroke-width="1"/>
<text x="109.54" y="540.3" font-size="7.5" text-anchor="middle">8</text>
<line x1="126.4" y1="527" x2="126.4" y2="530" stroke="#111" stroke-width="1"/>
<text x="126.4" y="540.3" font-size="7.5" text-anchor="middle">10</text>
<path d="M42.1 527 C44.91 527 54.75 527 58.96 527 C63.17 527 64.58 527 67.39 527 C70.2 527 73.01 527.2 75.82 527 C78.63 526.8 81.44 526.31 84.25 525.82 C87.06 525.33 89.87 524.35 92.68 524.05 C95.49 523.76 99.7 524.05 101.11 524.05" fill="none" stroke="#a8173f" stroke-width="1.5"/>
<circle cx="42.1" cy="527" r="2.4" fill="#a8173f"/>
<circle cx="58.96" cy="527" r="2.4" fill="#a8173f"/>
<circle cx="67.39" cy="527" r="2.4" fill="#a8173f"/>
<circle cx="75.82" cy="527" r="2.4" fill="#a8173f"/>
<circle cx="84.25" cy="525.82" r="2.4" fill="#a8173f"/>
<circle cx="92.68" cy="524.05" r="2.4" fill="#a8173f"/>
<circle cx="101.11" cy="524.05" r="2.4" fill="#a8173f"/>
<path d="M42.1 527 C44.91 527 54.75 527 58.96 527 C63.17 527 64.58 527 67.39 527 C70.2 527 73.01 527.29 75.82 527 C78.63 526.71 81.44 526.61 84.25 525.23 C87.06 523.86 89.87 520.53 92.68 518.75 C95.49 516.96 98.3 514.8 101.11 514.5 C103.92 514.21 108.13 516.56 109.54 516.98" fill="none" stroke="#27457a" stroke-width="1.5"/>
<rect x="39.7" y="524.6" width="4.8" height="4.8" fill="#27457a"/>
<rect x="56.56" y="524.6" width="4.8" height="4.8" fill="#27457a"/>
<rect x="64.99" y="524.6" width="4.8" height="4.8" fill="#27457a"/>
<rect x="73.42" y="524.6" width="4.8" height="4.8" fill="#27457a"/>
<rect x="81.85" y="522.83" width="4.8" height="4.8" fill="#27457a"/>
<rect x="90.28" y="516.35" width="4.8" height="4.8" fill="#27457a"/>
<rect x="98.71" y="512.1" width="4.8" height="4.8" fill="#27457a"/>
<rect x="107.14" y="514.58" width="4.8" height="4.8" fill="#27457a"/>
<path d="M42.1 527 C44.91 527 54.75 527 58.96 527 C63.17 527 64.58 527 67.39 527 C70.2 527 73.01 527.39 75.82 527 C78.63 526.61 81.44 526.76 84.25 524.64 C87.06 522.52 89.87 518.39 92.68 514.26 C95.49 510.14 98.3 502.08 101.11 499.88 C103.92 497.68 108.13 500.86 109.54 501.06" fill="none" stroke="#6aa843" stroke-width="1.5"/>
<line x1="101.11" y1="496.93" x2="101.11" y2="502.83" stroke="#111" stroke-width="1.25"/>
<line x1="98.81" y1="496.93" x2="103.41" y2="496.93" stroke="#111" stroke-width="1.25"/>
<line x1="98.81" y1="502.83" x2="103.41" y2="502.83" stroke="#111" stroke-width="1.25"/>
<line x1="109.54" y1="495.16" x2="109.54" y2="505.77" stroke="#111" stroke-width="1.25"/>
<line x1="107.24" y1="495.16" x2="111.84" y2="495.16" stroke="#111" stroke-width="1.25"/>
<line x1="107.24" y1="505.77" x2="111.84" y2="505.77" stroke="#111" stroke-width="1.25"/>
<path d="M42.1 524 L44.86 527 L42.1 530 L39.34 527 Z" fill="#6aa843"/>
<path d="M58.96 524 L61.72 527 L58.96 530 L56.2 527 Z" fill="#6aa843"/>
<path d="M67.39 524 L70.15 527 L67.39 530 L64.63 527 Z" fill="#6aa843"/>
<path d="M75.82 524 L78.58 527 L75.82 530 L73.06 527 Z" fill="#6aa843"/>
<path d="M84.25 521.64 L87.01 524.64 L84.25 527.64 L81.49 524.64 Z" fill="#6aa843"/>
<path d="M92.68 511.26 L95.44 514.26 L92.68 517.26 L89.92 514.26 Z" fill="#6aa843"/>
<path d="M101.11 496.88 L103.87 499.88 L101.11 502.88 L98.35 499.88 Z" fill="#6aa843"/>
<path d="M109.54 498.06 L112.3 501.06 L109.54 504.06 L106.78 501.06 Z" fill="#6aa843"/>
<path d="M42.1 527 C44.91 527 54.75 527 58.96 527 C63.17 527 64.58 527 67.39 527 C70.2 527 73.01 527.49 75.82 527 C78.63 526.51 81.44 526.41 84.25 524.05 C87.06 521.69 89.87 519.14 92.68 512.85 C95.49 506.56 98.3 492.51 101.11 486.32 C103.92 480.13 106.73 477.97 109.54 475.71 C112.35 473.45 116.56 473.25 117.97 472.76" fill="none" stroke="#35195a" stroke-width="1.5"/>
<line x1="92.68" y1="504.6" x2="92.68" y2="516.39" stroke="#111" stroke-width="1.25"/>
<line x1="90.38" y1="504.6" x2="94.98" y2="504.6" stroke="#111" stroke-width="1.25"/>
<line x1="90.38" y1="516.39" x2="94.98" y2="516.39" stroke="#111" stroke-width="1.25"/>
<line x1="101.11" y1="473.94" x2="101.11" y2="498.7" stroke="#111" stroke-width="1.25"/>
<line x1="98.81" y1="473.94" x2="103.41" y2="473.94" stroke="#111" stroke-width="1.25"/>
<line x1="98.81" y1="498.7" x2="103.41" y2="498.7" stroke="#111" stroke-width="1.25"/>
<line x1="109.54" y1="462.15" x2="109.54" y2="488.09" stroke="#111" stroke-width="1.25"/>
<line x1="107.24" y1="462.15" x2="111.84" y2="462.15" stroke="#111" stroke-width="1.25"/>
<line x1="107.24" y1="488.09" x2="111.84" y2="488.09" stroke="#111" stroke-width="1.25"/>
<line x1="117.97" y1="458.61" x2="117.97" y2="485.73" stroke="#111" stroke-width="1.25"/>
<line x1="115.67" y1="458.61" x2="120.27" y2="458.61" stroke="#111" stroke-width="1.25"/>
<line x1="115.67" y1="485.73" x2="120.27" y2="485.73" stroke="#111" stroke-width="1.25"/>
<path d="M42.1 523.88 L45.22 529.4 L38.98 529.4 Z" fill="#35195a"/>
<path d="M58.96 523.88 L62.08 529.4 L55.84 529.4 Z" fill="#35195a"/>
<path d="M67.39 523.88 L70.51 529.4 L64.27 529.4 Z" fill="#35195a"/>
<path d="M75.82 523.88 L78.94 529.4 L72.7 529.4 Z" fill="#35195a"/>
<path d="M84.25 520.93 L87.37 526.45 L81.13 526.45 Z" fill="#35195a"/>
<path d="M92.68 509.73 L95.8 515.25 L89.56 515.25 Z" fill="#35195a"/>
<path d="M101.11 483.2 L104.23 488.72 L97.99 488.72 Z" fill="#35195a"/>
<path d="M109.54 472.59 L112.66 478.11 L106.42 478.11 Z" fill="#35195a"/>
<path d="M117.97 469.64 L121.09 475.16 L114.85 475.16 Z" fill="#35195a"/>
<circle cx="107.89" cy="458.49" r="1.05" fill="#222"/>
<circle cx="111.19" cy="458.49" r="1.05" fill="#222"/>
<circle cx="116.32" cy="455.19" r="1.05" fill="#222"/>
<circle cx="119.62" cy="455.19" r="1.05" fill="#222"/>
<circle cx="107.89" cy="491.51" r="1.05" fill="#222"/>
<circle cx="111.19" cy="491.51" r="1.05" fill="#222"/>
<circle cx="99.46" cy="507.43" r="1.05" fill="#222"/>
<circle cx="102.76" cy="507.43" r="1.05" fill="#222"/>
<text x="46.3" y="458.5" font-size="7.6">CD71<tspan font-size="5.5" dy="-3.4">lo/neg</tspan></text>
<text x="25" y="485.8" font-size="8.8" text-anchor="middle" font-weight="bold" textLength="50.5" lengthAdjust="spacingAndGlyphs" transform="rotate(-90 25 485.8)" stroke-width="0.1">Cells/mL (x10<tspan font-size="6" dy="-3.2">6</tspan><tspan dy="3.2">)</tspan></text>
<text x="85.2" y="555.2" font-size="9.9" text-anchor="middle" font-weight="bold" textLength="11.2" lengthAdjust="spacingAndGlyphs" stroke-width="0.1">Day</text>
<line x1="175" y1="442.1" x2="175" y2="527.1" stroke="#111" stroke-width="1.4"/>
<line x1="175" y1="527.1" x2="262.5" y2="527.1" stroke="#111" stroke-width="1.3"/>
<line x1="172" y1="527.1" x2="175" y2="527.1" stroke="#111" stroke-width="1"/>
<text x="168.4" y="529.7" font-size="7.5" text-anchor="end" textLength="4.25" lengthAdjust="spacingAndGlyphs">0</text>
<line x1="172" y1="513.45" x2="175" y2="513.45" stroke="#111" stroke-width="1"/>
<text x="168.4" y="516.05" font-size="7.5" text-anchor="end" textLength="4.25" lengthAdjust="spacingAndGlyphs">5</text>
<line x1="172" y1="499.8" x2="175" y2="499.8" stroke="#111" stroke-width="1"/>
<text x="168.4" y="502.4" font-size="7.5" text-anchor="end" textLength="8.5" lengthAdjust="spacingAndGlyphs">10</text>
<line x1="172" y1="486.15" x2="175" y2="486.15" stroke="#111" stroke-width="1"/>
<text x="168.4" y="488.75" font-size="7.5" text-anchor="end" textLength="8.5" lengthAdjust="spacingAndGlyphs">15</text>
<line x1="172" y1="472.5" x2="175" y2="472.5" stroke="#111" stroke-width="1"/>
<text x="168.4" y="475.1" font-size="7.5" text-anchor="end" textLength="8.5" lengthAdjust="spacingAndGlyphs">20</text>
<line x1="172" y1="458.85" x2="175" y2="458.85" stroke="#111" stroke-width="1"/>
<text x="168.4" y="461.45" font-size="7.5" text-anchor="end" textLength="8.5" lengthAdjust="spacingAndGlyphs">25</text>
<line x1="172" y1="445.2" x2="175" y2="445.2" stroke="#111" stroke-width="1"/>
<text x="168.4" y="447.8" font-size="7.5" text-anchor="end" textLength="8.5" lengthAdjust="spacingAndGlyphs">30</text>
<line x1="175" y1="527.1" x2="175" y2="530.1" stroke="#111" stroke-width="1"/>
<text x="175" y="540.3" font-size="7.5" text-anchor="middle">0</text>
<line x1="196.2" y1="527.1" x2="196.2" y2="530.1" stroke="#111" stroke-width="1"/>
<text x="196.2" y="540.3" font-size="7.5" text-anchor="middle">2</text>
<line x1="217.4" y1="527.1" x2="217.4" y2="530.1" stroke="#111" stroke-width="1"/>
<text x="217.4" y="540.3" font-size="7.5" text-anchor="middle">4</text>
<line x1="238.6" y1="527.1" x2="238.6" y2="530.1" stroke="#111" stroke-width="1"/>
<text x="238.6" y="540.3" font-size="7.5" text-anchor="middle">6</text>
<line x1="259.8" y1="527.1" x2="259.8" y2="530.1" stroke="#111" stroke-width="1"/>
<text x="259.8" y="540.3" font-size="7.5" text-anchor="middle">8</text>
<path d="M175 527.1 C176.77 526.87 182.07 527.74 185.6 525.74 C189.13 523.73 192.67 518.14 196.2 515.09 C199.73 512.04 203.27 508.44 206.8 507.44 C210.33 506.44 213.87 508.31 217.4 509.08 C220.93 509.86 226.23 511.58 228 512.09" fill="none" stroke="#a8173f" stroke-width="1.5"/>
<circle cx="175" cy="527.1" r="2.4" fill="#a8173f"/>
<circle cx="185.6" cy="525.74" r="2.4" fill="#a8173f"/>
<circle cx="196.2" cy="515.09" r="2.4" fill="#a8173f"/>
<circle cx="206.8" cy="507.44" r="2.4" fill="#a8173f"/>
<circle cx="217.4" cy="509.08" r="2.4" fill="#a8173f"/>
<circle cx="228" cy="512.09" r="2.4" fill="#a8173f"/>
<path d="M175 527.1 C176.77 526.87 182.07 527.83 185.6 525.74 C189.13 523.64 192.67 517.59 196.2 514.54 C199.73 511.49 203.27 508.81 206.8 507.44 C210.33 506.08 213.87 506.35 217.4 506.35 C220.93 506.35 226.23 507.26 228 507.44" fill="none" stroke="#27457a" stroke-width="1.5"/>
<rect x="172.6" y="524.7" width="4.8" height="4.8" fill="#27457a"/>
<rect x="183.2" y="523.34" width="4.8" height="4.8" fill="#27457a"/>
<rect x="193.8" y="512.14" width="4.8" height="4.8" fill="#27457a"/>
<rect x="204.4" y="505.04" width="4.8" height="4.8" fill="#27457a"/>
<rect x="215" y="503.95" width="4.8" height="4.8" fill="#27457a"/>
<rect x="225.6" y="505.04" width="4.8" height="4.8" fill="#27457a"/>
<path d="M175 527.1 C176.77 526.87 182.07 527.46 185.6 525.74 C189.13 524.01 192.67 519.73 196.2 516.73 C199.73 513.72 203.27 511.04 206.8 507.72 C210.33 504.4 213.87 499.62 217.4 496.8 C220.93 493.98 226.23 491.79 228 490.79" fill="none" stroke="#6aa843" stroke-width="1.5"/>
<path d="M175 524.1 L177.76 527.1 L175 530.1 L172.24 527.1 Z" fill="#6aa843"/>
<path d="M185.6 522.74 L188.36 525.74 L185.6 528.74 L182.84 525.74 Z" fill="#6aa843"/>
<path d="M196.2 513.73 L198.96 516.73 L196.2 519.73 L193.44 516.73 Z" fill="#6aa843"/>
<path d="M206.8 504.72 L209.56 507.72 L206.8 510.72 L204.04 507.72 Z" fill="#6aa843"/>
<path d="M217.4 493.8 L220.16 496.8 L217.4 499.8 L214.64 496.8 Z" fill="#6aa843"/>
<path d="M228 487.79 L230.76 490.79 L228 493.79 L225.24 490.79 Z" fill="#6aa843"/>
<path d="M175 527.1 C176.77 526.87 182.07 527.37 185.6 525.74 C189.13 524.1 192.67 520.96 196.2 517.27 C199.73 513.59 203.27 508.58 206.8 503.62 C210.33 498.66 213.87 493.66 217.4 487.52 C220.93 481.37 226.23 470.23 228 466.77" fill="none" stroke="#35195a" stroke-width="1.5"/>
<path d="M175 523.98 L178.12 529.5 L171.88 529.5 Z" fill="#35195a"/>
<path d="M185.6 522.62 L188.72 528.13 L182.48 528.13 Z" fill="#35195a"/>
<path d="M196.2 514.15 L199.32 519.67 L193.08 519.67 Z" fill="#35195a"/>
<path d="M206.8 500.5 L209.92 506.02 L203.68 506.02 Z" fill="#35195a"/>
<path d="M217.4 484.4 L220.52 489.92 L214.28 489.92 Z" fill="#35195a"/>
<path d="M228 463.65 L231.12 469.17 L224.88 469.17 Z" fill="#35195a"/>
<circle cx="226.35" cy="461.99" r="1.05" fill="#222"/>
<circle cx="229.65" cy="461.99" r="1.05" fill="#222"/>
<circle cx="226.35" cy="486.15" r="1.05" fill="#222"/>
<circle cx="229.65" cy="486.15" r="1.05" fill="#222"/>
<text x="177.7" y="458.5" font-size="7.6">CD71<tspan font-size="5.5" dy="-3.4">med</tspan></text>
<text x="153.7" y="486.3" font-size="8.8" text-anchor="middle" font-weight="bold" textLength="50.5" lengthAdjust="spacingAndGlyphs" transform="rotate(-90 153.7 486.3)" stroke-width="0.1">Cells/mL (x10<tspan font-size="6" dy="-3.2">6</tspan><tspan dy="3.2">)</tspan></text>
<text x="217.5" y="555.2" font-size="9.9" text-anchor="middle" font-weight="bold" textLength="11.2" lengthAdjust="spacingAndGlyphs" stroke-width="0.1">Day</text>
<line x1="288.3" y1="442.1" x2="288.3" y2="527.1" stroke="#111" stroke-width="1.4"/>
<line x1="288.3" y1="527.1" x2="373.7" y2="527.1" stroke="#111" stroke-width="1.3"/>
<line x1="285.3" y1="527.1" x2="288.3" y2="527.1" stroke="#111" stroke-width="1"/>
<text x="281.7" y="529.7" font-size="7.5" text-anchor="end" textLength="4.25" lengthAdjust="spacingAndGlyphs">0</text>
<line x1="285.3" y1="513.45" x2="288.3" y2="513.45" stroke="#111" stroke-width="1"/>
<text x="281.7" y="516.05" font-size="7.5" text-anchor="end" textLength="4.25" lengthAdjust="spacingAndGlyphs">5</text>
<line x1="285.3" y1="499.8" x2="288.3" y2="499.8" stroke="#111" stroke-width="1"/>
<text x="281.7" y="502.4" font-size="7.5" text-anchor="end" textLength="8.5" lengthAdjust="spacingAndGlyphs">10</text>
<line x1="285.3" y1="486.15" x2="288.3" y2="486.15" stroke="#111" stroke-width="1"/>
<text x="281.7" y="488.75" font-size="7.5" text-anchor="end" textLength="8.5" lengthAdjust="spacingAndGlyphs">15</text>
<line x1="285.3" y1="472.5" x2="288.3" y2="472.5" stroke="#111" stroke-width="1"/>
<text x="281.7" y="475.1" font-size="7.5" text-anchor="end" textLength="8.5" lengthAdjust="spacingAndGlyphs">20</text>
<line x1="285.3" y1="458.85" x2="288.3" y2="458.85" stroke="#111" stroke-width="1"/>
<text x="281.7" y="461.45" font-size="7.5" text-anchor="end" textLength="8.5" lengthAdjust="spacingAndGlyphs">25</text>
<line x1="285.3" y1="445.2" x2="288.3" y2="445.2" stroke="#111" stroke-width="1"/>
<text x="281.7" y="447.8" font-size="7.5" text-anchor="end" textLength="8.5" lengthAdjust="spacingAndGlyphs">30</text>
<line x1="288.3" y1="527.1" x2="288.3" y2="530.1" stroke="#111" stroke-width="1"/>
<text x="288.3" y="540.3" font-size="7.5" text-anchor="middle">0</text>
<line x1="315.7" y1="527.1" x2="315.7" y2="530.1" stroke="#111" stroke-width="1"/>
<text x="315.7" y="540.3" font-size="7.5" text-anchor="middle">2</text>
<line x1="343.1" y1="527.1" x2="343.1" y2="530.1" stroke="#111" stroke-width="1"/>
<text x="343.1" y="540.3" font-size="7.5" text-anchor="middle">4</text>
<line x1="370.5" y1="527.1" x2="370.5" y2="530.1" stroke="#111" stroke-width="1"/>
<text x="370.5" y="540.3" font-size="7.5" text-anchor="middle">6</text>
<path d="M288.3 527.1 C290.58 526.87 297.43 526.78 302 525.74 C306.57 524.69 311.13 521.78 315.7 520.82 C320.27 519.87 324.83 520.14 329.4 520 C333.97 519.87 340.82 520 343.1 520" fill="none" stroke="#a8173f" stroke-width="1.5"/>
<circle cx="288.3" cy="527.1" r="2.4" fill="#a8173f"/>
<circle cx="302" cy="525.74" r="2.4" fill="#a8173f"/>
<circle cx="315.7" cy="520.82" r="2.4" fill="#a8173f"/>
<circle cx="329.4" cy="520" r="2.4" fill="#a8173f"/>
<circle cx="343.1" cy="520" r="2.4" fill="#a8173f"/>
<path d="M288.3 527.1 C290.58 526.87 297.43 527.05 302 525.74 C306.57 524.42 311.13 520.37 315.7 519.18 C320.27 518 324.83 518.55 329.4 518.64 C333.97 518.73 340.82 519.55 343.1 519.73" fill="none" stroke="#27457a" stroke-width="1.5"/>
<rect x="285.9" y="524.7" width="4.8" height="4.8" fill="#27457a"/>
<rect x="299.6" y="523.34" width="4.8" height="4.8" fill="#27457a"/>
<rect x="313.3" y="516.78" width="4.8" height="4.8" fill="#27457a"/>
<rect x="327" y="516.24" width="4.8" height="4.8" fill="#27457a"/>
<rect x="340.7" y="517.33" width="4.8" height="4.8" fill="#27457a"/>
<path d="M288.3 527.1 C290.58 526.87 297.43 526.92 302 525.74 C306.57 524.55 311.13 521.09 315.7 520 C320.27 518.91 324.83 519.27 329.4 519.18 C333.97 519.09 340.82 519.41 343.1 519.46" fill="none" stroke="#6aa843" stroke-width="1.5"/>
<path d="M288.3 524.1 L291.06 527.1 L288.3 530.1 L285.54 527.1 Z" fill="#6aa843"/>
<path d="M302 522.74 L304.76 525.74 L302 528.74 L299.24 525.74 Z" fill="#6aa843"/>
<path d="M315.7 517 L318.46 520 L315.7 523 L312.94 520 Z" fill="#6aa843"/>
<path d="M329.4 516.18 L332.16 519.18 L329.4 522.18 L326.64 519.18 Z" fill="#6aa843"/>
<path d="M343.1 516.46 L345.86 519.46 L343.1 522.46 L340.34 519.46 Z" fill="#6aa843"/>
<path d="M288.3 527.1 C290.58 526.87 297.43 526.55 302 525.74 C306.57 524.92 311.13 523.1 315.7 522.19 C320.27 521.28 324.83 520.64 329.4 520.27 C333.97 519.91 340.82 520.05 343.1 520" fill="none" stroke="#35195a" stroke-width="1.5"/>
<path d="M288.3 523.98 L291.42 529.5 L285.18 529.5 Z" fill="#35195a"/>
<path d="M302 522.62 L305.12 528.13 L298.88 528.13 Z" fill="#35195a"/>
<path d="M315.7 519.07 L318.82 524.59 L312.58 524.59 Z" fill="#35195a"/>
<path d="M329.4 517.15 L332.52 522.67 L326.28 522.67 Z" fill="#35195a"/>
<path d="M343.1 516.88 L346.22 522.4 L339.98 522.4 Z" fill="#35195a"/>
<text x="292.9" y="458.5" font-size="7.6">CD71<tspan font-size="5.5" dy="-3.4">hi</tspan></text>
<text x="329.2" y="555.2" font-size="9.9" text-anchor="middle" font-weight="bold" textLength="11.2" lengthAdjust="spacingAndGlyphs" stroke-width="0.1">Day</text>
<rect x="0" y="0" width="520" height="1.45" fill="#000"/>
<rect x="0" y="563.5" width="520" height="1.5" fill="#000"/>
<rect x="0" y="0" width="1.5" height="565" fill="#000"/>
<rect x="518.5" y="0" width="1.5" height="565" fill="#000"/>
</svg></div></body></html>
